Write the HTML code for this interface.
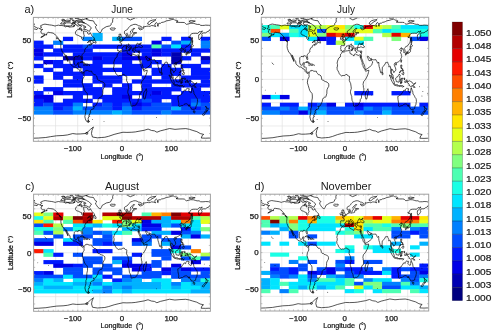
<!DOCTYPE html><html><head><meta charset="utf-8"><style>html,body{margin:0;padding:0;background:#fff;overflow:hidden;}svg{display:block;will-change:transform;filter:blur(0.2px);}text{font-family:"Liberation Sans",sans-serif;fill:#1a1a1a;}</style></head><body>
<svg width="500" height="335" viewBox="0 0 500 335">
<rect width="500" height="335" fill="#fff"/>
<defs>
<path id="coast" d="M-168 -65.6 -165 -64.6 -161 -64.5 -165 -62.5 -164 -60 -162 -58.6 -157 -58.7 -158 -57 -163 -55 -160 -55.5 -155 -57.5 -152 -59.5 -150 -61 -148 -60.5 -145 -60.3 -140 -59.7 -137 -58.5 -135 -57 -131 -54.5 -130 -54 -128 -51 -125 -49.5 -124 -48 -124 -46 -124.5 -42.5 -124 -40 -122.5 -37.5 -121 -35 -118.5 -34 -117 -32.5 -116 -31 -114.5 -29 -112 -26 -110 -23 -110.5 -24.5 -112.5 -28 -114.7 -31.5 -113 -31 -111 -28 -109 -25.5 -106 -23 -105.5 -20.5 -104 -19 -101 -17.5 -98 -16 -95 -16 -93 -15.5 -91.5 -14 -88 -13.3 -87 -12.5 -85.7 -11 -85.5 -10 -84 -9 -82 -8.3 -80 -7.3 -78 -8.5 -77.3 -8 -77.5 -6 -77 -3.5 -78.7 -1.5 -80 0 -80.5 2 -81 4.5 -80 6 -79 8 -77 12 -76 14 -74 16 -71 18 -70.3 20 -70.2 24 -71.5 28 -71.7 32 -72 36 -73.5 38 -73.5 42 -74.5 45 -75.5 48 -74.5 51 -73 53.5 -70 55 -67 55 -68.5 53 -68.3 52.3 -69 51 -68.5 50 -67.5 48 -65.8 47.8 -67.5 46 -65 45 -65 43 -64 42.5 -63.5 42.7 -64.5 41 -62.3 39 -57.5 38 -56.7 36.5 -57.5 35.5 -58.5 34.5 -56 34.9 -54 34.4 -52.5 33 -50.5 30.5 -48.6 28 -48.5 26 -46.5 24 -44.5 23 -42 23 -41 22 -40 20 -39 18 -39 15 -38.5 13 -37 11 -35 9 -34.8 7 -35.3 5.3 -37 4.7 -39 3.3 -41.5 2.9 -44 2.5 -46 1 -48.5 1 -50 0 -50.5 -2 -51.5 -4.3 -54 -5.8 -57 -6 -59.5 -8 -61 -9 -61.5 -10.5 -64 -10.5 -67 -10.5 -70 -11.5 -71.5 -10.8 -72 -11.7 -74 -11.2 -75.5 -10.5 -76 -9.5 -77 -8.5 -79.5 -9.6 -81 -9 -83 -10.7 -83.7 -11 -83.3 -14 -83.3 -15 -85 -16 -88 -15.8 -88.5 -17.5 -87.5 -20.5 -87 -21.5 -90.3 -21.2 -90.5 -19.5 -91.5 -18.5 -94.5 -18.2 -96 -19 -97.3 -21.5 -97.5 -24 -97.2 -26 -97.3 -27.8 -94.5 -29.5 -92 -29.6 -90 -29 -89.2 -29.2 -89.5 -30.2 -88 -30.5 -86 -30.4 -84.5 -30 -83 -29 -82.7 -27.5 -81.8 -26 -81 -25.2 -80.2 -25.8 -80.1 -27 -81 -29.5 -81.5 -31 -80.5 -32.3 -79 -33.3 -77.5 -34.5 -76 -35.2 -75.5 -35.6 -76 -37 -75.5 -38 -74.5 -39.5 -74 -40.5 -72 -41 -70 -41.6 -70.5 -42.5 -70.7 -43 -69 -44 -67 -44.7 -66 -45 -64.5 -45.5 -66 -44 -65.5 -43.5 -63.5 -44.5 -61 -45.3 -60 -46 -61 -47 -63 -46 -64.5 -47 -65 -49 -64.2 -48.9 -66 -49.2 -68 -48.5 -70 -47 -69.5 -47.9 -66.5 -50.2 -63 -50.2 -60 -50.2 -57 -51.5 -56 -52 -56.5 -53.5 -58 -54.5 -60 -55.5 -61.5 -56.5 -62.5 -58 -64.5 -60.3 -65 -59 -67.5 -58.3 -69.5 -59 -70 -61 -72 -61.8 -75 -62.3 -78 -62.5 -78 -60 -77.5 -58 -76.5 -56 -77.5 -55 -79 -54 -78.5 -52 -79.5 -51.5 -80.5 -51.3 -82 -52.5 -82.5 -55 -85 -55.3 -88 -56.5 -90 -57 -92.5 -57.3 -94.5 -59 -94.5 -61 -93 -62.5 -91 -63.8 -90 -64.5 -88 -64.2 -87 -65.2 -86 -66.5 -84.5 -67.5 -82 -68.5 -85 -69.8 -89 -68.7 -92 -69.5 -94 -71.5 -96 -70 -98 -68 -102 -67.8 -108 -67.5 -108 -68.5 -112 -68.5 -115 -67.8 -118 -69 -122 -69.5 -126 -69.5 -129 -70 -133 -69.5 -136 -68.8 -140 -69.6 -143 -70 -147 -70.3 -152 -70.8 -156.5 -71.3 -160 -70.8 -163 -70 -166 -68.8 -163 -67.5 -164.5 -66.5 -168 -65.6M-73 -78 -67 -80.5 -60 -82 -45 -82.5 -30 -83.5 -20 -82 -17 -80 -19 -77 -19 -74 -22 -72 -22 -70.5 -25 -69 -32 -68 -37 -66 -40 -65 -42 -62 -44 -60 -46 -60.5 -49 -62 -51 -64 -53 -66 -54 -68 -51 -70 -54 -71 -56 -73 -58 -75.5 -65 -76 -70 -77 -73 -78M-62 -66.5 -64 -65 -66 -62 -68 -62.5 -72 -64 -75 -64.5 -78 -64.5 -77 -66 -73 -67.5 -75 -68.5 -79 -69.5 -81 -70.5 -85 -70 -89 -71 -90 -73 -85 -73.8 -80 -73.7 -76 -72.5 -72 -71.5 -70 -70.5 -68 -70 -66 -68.5 -63 -67 -62 -66.5M-118 -71 -113 -73 -105 -73 -102 -72 -101 -70 -105 -69 -110 -68.8 -115 -69.2 -118 -70 -118 -71M-125 -71.5 -121 -74.5 -115 -73.5 -120 -71.5 -125 -71.5M-80 -74.5 -90 -74.5 -93 -76 -85 -76.5 -80 -75.5 -80 -74.5M-80 -77 -90 -78 -90 -80 -75 -83 -62 -82 -70 -79 -80 -77M-95 -72 -100 -73 -98 -74 -93 -74 -95 -72M-105 -75 -112 -74.5 -117 -75.5 -112 -76.5 -105 -76 -105 -75M-86 -64 -81 -64.5 -83 -66 -87 -65.5 -86 -64M-59 -47.6 -56 -47.6 -53 -46.7 -52.7 -47.8 -53.5 -49.3 -55.5 -49.8 -55.5 -51.6 -57 -50.5 -59.3 -48.5 -59 -47.6M-85 -21.9 -82 -23.1 -80 -23 -77 -21.5 -74.2 -20.2 -77.5 -19.8 -78.5 -21.5 -81.5 -21.7 -85 -21.9M-74.5 -18.4 -72.5 -19.9 -69.5 -19.7 -68.3 -18.6 -71 -18 -74.5 -18.4M-78.3 -18.4 -76.3 -18.2 -77 -17.8 -78.3 -18.4M-67.2 -18.5 -65.6 -18.4 -66 -18 -67.2 -18.5M-128.5 -50.8 -125 -50 -123.5 -48.4 -125.5 -48.9 -128.5 -50.8M-5.9 -35.8 -2 -35.1 1 -36.5 5 -36.8 9.7 -37.3 11 -37 10.5 -36 11 -35.2 10 -34 11.3 -33.2 15 -32.3 17 -31 19.5 -30.3 20 -31.5 20 -32.2 22 -32.9 25 -31.8 29 -30.9 31 -31.5 32.3 -31.2 34.2 -31.3 34.9 -29.5 34.2 -27.8 33.6 -28.5 32.6 -29.9 33 -28 34 -26.5 35.5 -24 36.9 -22 37.2 -19 38.6 -17.9 39.5 -15.5 41.5 -13.9 43.3 -12.5 43.5 -11.5 44.5 -10.4 47 -11.1 51.3 -11.8 51 -10.4 50.5 -9 49 -6 48 -4.5 46 -2 43.5 0.5 41.5 1.8 40 3 39.3 5 38.8 6.5 39.5 8 39.5 10.5 40.5 11 40.6 14.5 40 16.5 37 17.8 35.5 21 35.5 23 35.5 24 32.9 25.9 32.5 28.5 31 29.8 30 31.3 27.5 33.5 25.5 34 22.5 34 20 34.8 18.5 34.2 18.3 32.5 17.5 30 16.5 28.5 15.2 27 14.5 23 14.5 22 13.5 20.5 11.8 17.3 11.8 15.8 12.5 13.5 13.6 12 13.2 9.5 12.3 6 12 5 11 3.8 9.3 1.5 9.5 -1 9.8 -3 9.5 -4 8.5 -4.5 7 -4.4 5.5 -5 4.5 -6.3 2.5 -6.3 1 -5.9 -2 -4.7 -4 -5.2 -7.5 -4.4 -9 -5 -11.5 -6.9 -13 -8 -13.3 -9 -15 -11 -16.7 -12.5 -17 -14.5 -17.5 -14.7 -16.5 -16 -16 -19 -16.5 -20 -17 -21 -16 -23.5 -14.5 -26 -13 -27.7 -10 -29 -9.8 -30.5 -9.5 -32.5 -7 -33.8 -6 -35.5 -5.9 -35.8M49.3 12 50.5 15.5 49.5 17.5 47 25 45 25.5 44 23 43.3 21.5 44.5 16.5 46.3 15.8 48 13.5 49.3 12M180 -64.8 178.5 -64.5 177 -62.5 173 -61.5 170 -60 166 -60 163.5 -59.8 162 -58 163 -56 162 -54.8 160 -53 158.5 -52 156.7 -51 156 -52.5 155.6 -55 156 -57.5 158 -58 161 -60.5 163.5 -62.5 160 -61.5 157 -61.6 154 -59.3 150 -59.5 145 -59.4 142 -59 139 -57.5 137 -54 135 -54.7 141 -53 140.5 -50 140 -48 138 -46 135 -43.5 133 -42.7 131 -42.6 130.5 -42.3 129.5 -41 128 -40 127.5 -39.5 128.5 -38.5 129.3 -37 129.4 -35.5 127.5 -34.5 126.3 -34.5 126.5 -36 126.7 -37.5 125 -38 124.7 -39.7 122 -39 121.2 -40.9 121.5 -40.8 119.5 -39.9 118 -39 117.7 -38.5 118.8 -37.5 120.7 -37.8 122.5 -37.2 120.5 -36.1 119.3 -35 120.7 -32.5 121.8 -31.7 121.8 -30.8 121 -30.5 122 -29.8 121.5 -28.3 120 -26.6 119.5 -25.5 118.5 -24.5 117 -23.5 115 -22.7 113.5 -22.2 111 -21.5 109.8 -21.5 109.8 -20.3 108.7 -21.6 107 -21 106.5 -20 105.8 -19 106.5 -17.5 108.5 -15 109.3 -13 109 -11.5 107 -10.5 105 -8.7 104.8 -9.8 104.5 -10.5 103 -11 102.3 -12.2 100.9 -13.5 100 -13.3 99.3 -10.5 99.5 -9.2 100.3 -8.3 100.5 -7 101.5 -6.8 103.2 -5.3 103.5 -3.5 104.3 -1.4 103.5 -1.3 101.3 -2.9 100.3 -4.6 100.3 -6.5 98.7 -7.9 98.3 -9 98.6 -10 98.5 -13 97.7 -16.5 97.2 -16.8 96 -16.5 95 -15.8 94.3 -16 94.5 -18 93.5 -19.5 92.3 -20.8 92 -22 90.5 -22.2 89 -21.8 88 -22 87 -21.5 86.5 -20 84.5 -18.5 82.3 -16.6 80.2 -15.5 80.3 -13.4 79.9 -10.3 78.2 -8.9 77.5 -8.1 76.5 -9 75.6 -11.5 74.6 -14 73.4 -16.5 72.8 -19 72.9 -21 72.5 -21.5 72.6 -22.3 70.5 -20.8 69 -22.3 68.5 -23.5 67.5 -24 66.6 -25.4 64 -25.3 61.5 -25.2 59 -25.5 57.3 -25.8 56.5 -27.1 54.5 -26.7 52 -27.8 50.5 -29.5 48.5 -30 48 -29.3 48.5 -28 49.8 -26.7 50.2 -25.8 51 -24.5 51.5 -24.2 54.5 -24.2 56 -25.8 56.4 -26.3 56.4 -24.5 57.5 -23.7 59.8 -22.5 58.5 -20.5 57.7 -19 56.7 -18 55 -17 52.2 -15.8 49 -14.3 45 -12.8 43.5 -12.6 42.7 -15.5 42.3 -17 40.5 -20 39 -21.5 38 -24 36.5 -26 35 -28 34.6 -29.5 34.9 -29.5 34.2 -31.3 34.9 -32.5 35.5 -34 36 -35.8 36 -36.5 34.5 -36.8 32.5 -36.2 30.5 -36.5 29 -36.6 27.3 -37 26.5 -38.3 26.8 -39.5 26.2 -40.3 29 -41.1 31 -41.1 34 -42 36 -41.7 38 -41 40 -41 41.5 -41.5 41.6 -42.6 40 -43.4 38 -44.5 37.5 -45.2 38.5 -46.5 39.3 -47.2 37 -46.7 35 -45.4 36.5 -45.3 33.5 -44.5 32.5 -45.3 33.5 -46 31.5 -46.6 30.7 -46.5 29.6 -45.3 28.7 -44 27.6 -42.5 28 -41.3 26.3 -40.7 26 -40.8 23.5 -40.3 22.6 -40.6 22.8 -39 24 -38.2 23 -37.5 22.5 -36.4 21.7 -36.8 21.2 -37.7 21.5 -38.3 20.7 -39 20 -39.8 19.4 -41 19.5 -42 18.5 -42.5 17 -43.3 15.5 -44 14 -45 13.6 -45.8 12.3 -45.3 12.3 -44.3 13.5 -43.6 14.8 -42.1 16 -41.5 18.5 -40.2 17 -40.5 16.5 -39 17 -38.9 16.1 -38 15.7 -38 15.7 -39.5 15 -40.2 14 -40.8 12.5 -41.5 11 -42.5 10.2 -43.7 8.7 -44.4 7.5 -43.8 6 -43.1 4.5 -43.5 3.1 -43 3.2 -42 2 -41.2 0.8 -40.8 -0.3 -39.5 0.2 -38.7 -0.7 -37.6 -2 -36.7 -4.5 -36.7 -5.6 -36 -6.3 -36.8 -7.5 -37.2 -9 -37 -8.8 -38.7 -9.5 -39.5 -8.8 -41 -8.8 -42.5 -9.3 -43 -8 -43.7 -5 -43.5 -2 -43.4 -1.5 -43.5 -1.2 -44.5 -1.2 -46 -2.2 -47 -4.5 -47.8 -4.7 -48.4 -3 -48.8 -1.5 -48.7 -1.5 -49.7 0.2 -49.5 1.5 -50.2 2.5 -51.1 4 -51.5 4.7 -53 6 -53.5 8.5 -53.8 8.7 -55.5 8.1 -56.8 9.5 -57.1 10.5 -57.7 10.3 -56.5 10.5 -55.5 10 -54.5 11 -54 12.5 -54.4 14 -54 16.5 -54.5 18.5 -54.8 19.5 -54.4 21.2 -55.2 21 -56.5 21.5 -57.5 22.5 -57.7 23.5 -57 24.3 -57.3 24.5 -58.3 23.5 -59.2 26 -59.6 28 -59.5 30 -60 29 -60.3 27 -60.5 23 -60 21.5 -61 21.5 -63 25 -65 25.5 -65.7 23 -65.8 21.5 -64.8 19.5 -63.5 17.5 -62.3 17.2 -60.8 18.8 -60 18.5 -59.3 16.5 -58 16.5 -56.5 14.2 -55.4 12.9 -55.5 12.5 -56.5 11.5 -58.2 11 -59 10.5 -59.5 9.5 -59 7 -58 5.5 -58.8 5 -60 5 -62 7 -63 10 -64 12.5 -65.5 14 -67.2 16 -68.5 18 -69.6 21 -70.2 24 -71 28 -71 31 -70.3 33 -69.3 36 -69 40 -67.8 41.2 -66.8 40 -66.2 38.5 -66 35 -66.3 33.5 -66.6 34.5 -65 37 -63.9 40.5 -64.5 44 -66 44 -68.5 46 -68 50 -68.5 53.5 -68.8 54.5 -68.3 58 -68.8 60 -69.5 64 -69.2 67 -68.5 68.5 -68.2 66.5 -70.5 68.5 -72.8 70 -73.4 71.5 -72.5 72.5 -71 72 -69 73.5 -68.4 73.8 -69.2 73.5 -71.5 75 -72.5 78 -72.3 80.5 -73.5 84 -73.8 87 -74.5 90 -75.5 95 -76 100 -77 104.3 -77.7 106 -77.2 107 -76.5 112 -76.1 113.5 -75.5 112.5 -74 110 -74 114 -73.6 118 -73.5 124 -73.5 127 -73.3 129 -72 131 -71 135 -71.6 140 -72.5 146 -72.3 150 -71.4 153 -70.9 157 -71 160 -69.7 163 -69.6 167 -69.7 170 -70 176 -69.8 180 -68.9M-180 -68.9 -177 -67.8 -174 -67 -172 -66.2 -170 -66.2 -171.5 -65.5 -173 -64.3 -177 -65 -179 -65 -180 -64.8M-5.7 -50 -3 -50.6 1.4 -51.2 1.7 -52.7 0 -53.5 -0.5 -54.5 -1.5 -55.6 -2.1 -57 -1.8 -57.6 -4 -57.6 -3 -58.6 -5 -58.6 -6.2 -57.5 -5.7 -56.3 -6 -55.3 -4.8 -54.8 -3.2 -54.9 -3.4 -54.4 -2.9 -53.8 -3.1 -53.3 -4.6 -53.3 -4.2 -52.2 -5.3 -51.8 -3.2 -51.4 -4.5 -51 -5.7 -50M-6 -52 -6 -53.9 -5.5 -55 -7.3 -55.3 -8.5 -54.5 -10 -53.5 -9.5 -52.2 -10 -51.7 -8 -51.6 -6 -52M-22.5 -64 -24 -65.5 -22 -66.4 -18 -66.2 -14.5 -66.3 -13.6 -65 -15 -64.2 -18 -63.5 -22.5 -64M11 -78.5 17 -76.6 22 -78 27 -79.5 20 -80.5 11 -79.7 11 -78.5M52 -71.5 53 -73.5 57 -75.5 62 -76.5 69 -77 66 -75.5 59 -73 56 -70.7 52 -71.5M95 -79 100 -78.7 105 -79.5 100 -81 95 -80.3 95 -79M137 -74 142 -73.8 149 -75.2 141 -76 137 -75.5 137 -74M142 -46 143.5 -46.5 143.2 -49.5 144 -49 143 -51.5 143.2 -53.3 142.5 -54.3 142.2 -53.5 141.8 -52 142 -49 142 -46M130.9 -34 132.5 -35.5 134.5 -35.6 136 -36 137 -37 138.5 -37.8 140 -39.5 140 -40.8 141.3 -41.3 141.5 -40.5 142 -39.5 141 -38.3 140.9 -36.9 140.7 -35.7 139.8 -35 138.7 -34.7 137 -34.6 136.8 -33.5 135.2 -33.9 135 -34.6 133 -34.4 131.5 -33.9 130.9 -34M129.7 -33.5 131 -33.9 131.9 -33 131.3 -31.3 130.2 -31.2 129.8 -32.7 129.7 -33.5M132.5 -33.3 133.5 -34.2 134.7 -34.2 134.3 -33.3 133 -32.8 132.5 -33.3M140 -41.5 141.5 -42.5 143.3 -42 145.5 -43.3 144.5 -44 142 -45.5 141.5 -44 140.3 -43.2 140 -41.5M120.1 -23 120.8 -21.9 121.9 -24.7 121.5 -25.3 120.2 -24 120.1 -23M108.6 -19.2 110 -20 111 -19.6 109.5 -18.2 108.6 -19.2M120 -18.5 122.3 -18.5 122 -16.5 121.6 -15 122 -14 124 -13.8 124 -12.6 122.5 -13.5 120.8 -14 120 -16 120 -18.5M122 -7 123.5 -8 125 -9 126.5 -9 126.5 -7 125.5 -5.8 124 -6.3 122 -7M124.3 -12.5 125.7 -11.5 125 -10 124 -10.5 124.3 -12.5M122 -11.8 123 -11 122.5 -10.5 121.9 -10.8 122 -11.8M117 -8.3 119.5 -11.3 119.7 -10.5 117.5 -8.2 117 -8.3M109 -1.5 109.5 -2 111 -2.8 113 -3.2 114 -4.5 115.5 -5.4 116.8 -7 117.7 -6 119 -5.3 118 -4.3 117.7 -3 118 -1 117.5 0 116.7 1.3 116.3 3.5 114.5 3.5 114 3.3 111.7 3 110.2 2.8 110 1.5 109 0 109 -1.5M95.3 -5.6 97.5 -5.2 100.3 -2.5 101.5 -1.8 103.7 0 104.5 1.8 106 3.2 105.8 5.8 104.5 5.9 102.3 4 101 2.5 99 0 98.5 -1.8 97 -3.3 95.3 -5.6M105.2 6.8 106 5.9 108.5 6.7 110.5 6.8 112.8 6.9 114.4 7.7 114.5 8.7 111 8.2 108 7.8 106.4 7.4 105.2 6.8M115 8.2 116 8.8 119 8.6 122 8.7 124 8.2 122 8.2 119 8.2 116 8.3 115 8.2M124 10 126.5 8.5 127 8.6 124.5 10.2 124 10M119.5 5.5 119.5 3.5 118.8 2.8 119.8 0 120.8 -1.3 124.5 -1.5 125.2 -1.5 124 -0.4 121 -0.5 120.2 0 121.5 1 123.3 0.9 122 1.8 122.5 4.5 121.3 4.8 121 2.8 120.3 2.9 120.5 5.5 119.5 5.5M127.5 -2 128.5 -1.5 128 0 128.8 0.8 127.8 0.5 127.5 -2M128 3 130.8 3.2 130.5 3.8 128 3.5 128 3M131 1.3 132.5 0.4 135 3.3 138 1.6 141 2.6 144.5 3.8 146 5.5 147.8 6.1 147.5 8 149 9 150.8 10.3 149.5 10.4 147 10.1 146 8.3 144 7.7 143.4 9 142.5 9.3 141 9.1 139 8.1 138 8.4 137.8 6 135 4.4 133 4 132 2.8 133.5 2.3 132 2.1 131 1.3M148.5 5.5 150 5.2 152 4.2 151.5 5 150 6.2 148.5 5.5M79.9 -9.8 81.2 -8.5 81.8 -7 81.6 -6.2 80.6 -5.9 80 -6.5 79.8 -8 79.9 -9.8M113.5 22 114 26 115 29.5 115.7 31.6 115 34.3 117.8 35.1 120 34 123.5 33.9 126 32.3 129 31.6 131.3 31.5 133 32 134.3 33 135.7 34.8 136 33 137.8 33.2 137.5 34.5 138 35.5 139.5 35.9 140.5 38 143 38.8 144.5 38.2 145 38.5 146.3 39.1 147.5 38 150 37.5 150 36 151 34 152.5 32.2 153 30 153.6 28.5 153.2 25.8 152.5 24.5 151 23.5 150 22.3 149 21 148 20 146.3 18.9 146 17 145.4 15 144.5 14.2 143.5 12.5 142.5 10.7 141.6 12.6 141.5 15 141 17 140 17.7 139 17.3 137 16 135.5 15 136.8 12.3 136.5 11.9 135 12.1 132.6 11.5 131 12.2 130 13.3 129.5 15 127.7 14 126 14.2 125 15.5 123.5 17 122.2 18 121 19.5 119 20 117 20.7 114.8 21.8 113.5 22M144.7 40.7 148.3 40.9 148 43 146.8 43.6 145.2 42.3 144.7 40.7M169.7 34.4 171.5 36 172.9 37.3 175.5 37.7 174.9 39.2 173.9 39.5 173 41.3 172.2 41.6 171.6 41.3 172 40 170.8 39.2 171.6 37.5 171.2 36.5 169.7 34.4M169.7 40.5 171.3 41.3 170.9 42.3 170 43.5 168.3 44.3 167.7 45.9 166.3 46.6 163.5 46 163.8 45.2 165.3 44 167.7 42.9 168.5 41.7 169.1 40.9 169.7 40.5M12.4 -38 15.6 -38.3 15.1 -36.7 12.4 -37.8 12.4 -38M8.2 -41 9.7 -41 9.6 -39.2 8.4 -39 8.2 -41M8.6 -42.9 9.4 -43 9.5 -42 9.2 -41.4 8.6 -42 8.6 -42.9M23.5 -35.3 26.3 -35.2 24.5 -34.9 23.5 -35.3M32.3 -35 34.5 -35.6 33.8 -34.6 32.3 -35M-180 76 -170 75.8 -155 75.1 -145 74 -133 72.9 -120 72.5 -111 71.8 -100 70 -93 70.6 -85 70.5 -75 70 -69 67.6 -64 64.5 -58 61.5 -59 63 -61 66 -62 70 -60 74.5 -50 75.5 -42 75.1 -35 74.8 -27 73.5 -16 71.1 -8 69.8 2 68.3 10 68.5 20 68.3 27 67.9 34.5 67 45 65.8 53 64.2 60 66 66 66.5 71 68.3 78 66.5 85.7 65.3 96.7 63.5 107.7 64.6 118 64 129.6 63.6 137 64.5 144 66 152 67.5 159 70 166 71.1 163 72.5 161 75.8 170 76 177 75.8 180 76M-73 68.8 -69 69 -70.5 71 -74 70.3 -73 68.8M-157.5 -21.6 -155.3 -20.3 -153.3 -19M-101 -71.5 -97 -71.5 -96 -73.5 -100 -73.8 -101 -71.5M-99 -68.5 -96 -68.8 -96 -69.5 -98 -69.8 -99 -68.5M-100 -75.5 -97 -75.8 -98 -76.5 -101 -76.3 -100 -75.5M-96 -74.8 -93 -75 -94 -75.5 -96 -75.3 -96 -74.8M-122 -76 -116 -76.5 -118 -77.3 -123 -76.8 -122 -76M-95 -78.5 -88 -79 -90 -80.5 -95 -80.5 -95 -78.5M-105 -77.5 -100 -78 -102 -79 -106 -78.5 -105 -77.5M-80 -73 -76 -73 -77 -73.7 -80 -73.5 -80 -73M-83 -62.8 -81 -62.5 -80.5 -63 -82.5 -63.3 -83 -62.8M-180 -71.5 -177.5 -71.2 -179 -70.9 -180 -71M180 -71 178.7 -71.2 180 -71.5M50 -80 55 -80.3 60 -80.5 58 -81 50 -80.5 50 -80M-154.5 -57.3 -152.5 -57.5 -153.5 -58.3 -154.5 -57.3M-165 -54.2 -162 -54.7 -163.5 -54.8 -165 -54.2M-132.5 -52 -131 -52.5 -132 -54 -133 -53.8 -132.5 -52M-68.6 52.6 -66 54.5 -67.5 55.3 -70 54.6 -68.6 52.6M-78 -67.5 -76.5 -67.3 -77 -68 -78 -67.5"/>
<clipPath id="clipa"><rect x="33.4" y="17.4" width="177.2" height="123.9"/></clipPath>
<clipPath id="clipb"><rect x="261.3" y="17.3" width="167.4" height="124.2"/></clipPath>
<clipPath id="clipc"><rect x="33.6" y="194.2" width="176.8" height="117.1"/></clipPath>
<clipPath id="clipd"><rect x="260.8" y="194.2" width="167.9" height="116.8"/></clipPath>
</defs>
<g clip-path="url(#clipa)">
<path d="M55.55 17.4V141.3M77.7 17.4V141.3M99.85 17.4V141.3M122 17.4V141.3M144.15 17.4V141.3M166.3 17.4V141.3M188.45 17.4V141.3M33.4 125.81H210.6M33.4 102.58H210.6M33.4 79.35H210.6M33.4 56.12H210.6M33.4 32.89H210.6" stroke="#e0e0e0" stroke-width="0.65" fill="none"/>
<rect x="92.47" y="32.89" width="10.19" height="4.32" fill="#00b2ff"/>
<rect x="62.93" y="36.76" width="10.19" height="4.32" fill="#001aff"/>
<rect x="82.62" y="36.76" width="10.19" height="4.32" fill="#0080ff"/>
<rect x="92.47" y="36.76" width="10.19" height="4.32" fill="#00b2ff"/>
<rect x="112.16" y="36.76" width="10.19" height="4.32" fill="#00b2ff"/>
<rect x="122" y="36.76" width="20.04" height="4.32" fill="#004dff"/>
<rect x="161.38" y="36.76" width="10.19" height="4.32" fill="#001aff"/>
<rect x="181.07" y="36.76" width="10.19" height="4.32" fill="#001aff"/>
<rect x="200.76" y="36.76" width="10.19" height="4.32" fill="#001aff"/>
<rect x="33.4" y="40.63" width="10.19" height="4.32" fill="#001aff"/>
<rect x="53.09" y="40.63" width="10.19" height="4.32" fill="#0080ff"/>
<rect x="151.53" y="40.63" width="10.19" height="4.32" fill="#0000e6"/>
<rect x="171.22" y="40.63" width="10.19" height="4.32" fill="#004dff"/>
<rect x="181.07" y="40.63" width="10.19" height="4.32" fill="#00b2ff"/>
<rect x="200.76" y="40.63" width="10.19" height="4.32" fill="#0080ff"/>
<rect x="33.4" y="44.5" width="20.04" height="4.32" fill="#001aff"/>
<rect x="62.93" y="44.5" width="20.04" height="4.32" fill="#001aff"/>
<rect x="82.62" y="44.5" width="10.19" height="4.32" fill="#004dff"/>
<rect x="92.47" y="44.5" width="59.42" height="4.32" fill="#001aff"/>
<rect x="151.53" y="44.5" width="10.19" height="4.32" fill="#4dffb2"/>
<rect x="161.38" y="44.5" width="10.19" height="4.32" fill="#004dff"/>
<rect x="171.22" y="44.5" width="10.19" height="4.32" fill="#00e5ff"/>
<rect x="181.07" y="44.5" width="10.19" height="4.32" fill="#001aff"/>
<rect x="200.76" y="44.5" width="10.19" height="4.32" fill="#0080ff"/>
<rect x="33.4" y="48.38" width="10.19" height="4.32" fill="#0000e6"/>
<rect x="53.09" y="48.38" width="39.73" height="4.32" fill="#001aff"/>
<rect x="122" y="48.38" width="29.88" height="4.32" fill="#001aff"/>
<rect x="151.53" y="48.38" width="10.19" height="4.32" fill="#0000e6"/>
<rect x="161.38" y="48.38" width="49.57" height="4.32" fill="#001aff"/>
<rect x="33.4" y="52.25" width="10.19" height="4.32" fill="#0000e6"/>
<rect x="43.24" y="52.25" width="20.04" height="4.32" fill="#001aff"/>
<rect x="72.78" y="52.25" width="49.57" height="4.32" fill="#001aff"/>
<rect x="122" y="52.25" width="10.19" height="4.32" fill="#0000e6"/>
<rect x="141.69" y="52.25" width="10.19" height="4.32" fill="#001aff"/>
<rect x="151.53" y="52.25" width="10.19" height="4.32" fill="#0000e6"/>
<rect x="161.38" y="52.25" width="10.19" height="4.32" fill="#001aff"/>
<rect x="171.22" y="52.25" width="10.19" height="4.32" fill="#0000b2"/>
<rect x="190.91" y="52.25" width="10.19" height="4.32" fill="#001aff"/>
<rect x="33.4" y="56.12" width="10.19" height="4.32" fill="#001aff"/>
<rect x="62.93" y="56.12" width="20.04" height="4.32" fill="#0000b2"/>
<rect x="82.62" y="56.12" width="10.19" height="4.32" fill="#001aff"/>
<rect x="92.47" y="56.12" width="10.19" height="4.32" fill="#0000e6"/>
<rect x="102.31" y="56.12" width="20.04" height="4.32" fill="#001aff"/>
<rect x="122" y="56.12" width="29.88" height="4.32" fill="#0000e6"/>
<rect x="171.22" y="56.12" width="10.19" height="4.32" fill="#0000b2"/>
<rect x="181.07" y="56.12" width="10.19" height="4.32" fill="#001aff"/>
<rect x="200.76" y="56.12" width="10.19" height="4.32" fill="#0000b2"/>
<rect x="43.24" y="59.99" width="10.19" height="4.32" fill="#0000e6"/>
<rect x="53.09" y="59.99" width="10.19" height="4.32" fill="#001aff"/>
<rect x="72.78" y="59.99" width="10.19" height="4.32" fill="#001aff"/>
<rect x="92.47" y="59.99" width="39.73" height="4.32" fill="#001aff"/>
<rect x="141.69" y="59.99" width="20.04" height="4.32" fill="#001aff"/>
<rect x="171.22" y="59.99" width="10.19" height="4.32" fill="#0000b2"/>
<rect x="200.76" y="59.99" width="10.19" height="4.32" fill="#001aff"/>
<rect x="33.4" y="63.86" width="10.19" height="4.32" fill="#001aff"/>
<rect x="53.09" y="63.86" width="49.57" height="4.32" fill="#001aff"/>
<rect x="122" y="63.86" width="29.88" height="4.32" fill="#001aff"/>
<rect x="161.38" y="63.86" width="10.19" height="4.32" fill="#001aff"/>
<rect x="181.07" y="63.86" width="20.04" height="4.32" fill="#001aff"/>
<rect x="43.24" y="67.73" width="10.19" height="4.32" fill="#001aff"/>
<rect x="62.93" y="67.73" width="10.19" height="4.32" fill="#001aff"/>
<rect x="82.62" y="67.73" width="59.42" height="4.32" fill="#001aff"/>
<rect x="151.53" y="67.73" width="29.88" height="4.32" fill="#001aff"/>
<rect x="190.91" y="67.73" width="20.04" height="4.32" fill="#001aff"/>
<rect x="53.09" y="71.61" width="49.57" height="4.32" fill="#001aff"/>
<rect x="122" y="71.61" width="20.04" height="4.32" fill="#001aff"/>
<rect x="151.53" y="71.61" width="29.88" height="4.32" fill="#001aff"/>
<rect x="190.91" y="71.61" width="20.04" height="4.32" fill="#001aff"/>
<rect x="33.4" y="75.48" width="10.19" height="4.32" fill="#001aff"/>
<rect x="53.09" y="75.48" width="10.19" height="4.32" fill="#001aff"/>
<rect x="72.78" y="75.48" width="10.19" height="4.32" fill="#001aff"/>
<rect x="92.47" y="75.48" width="29.88" height="4.32" fill="#001aff"/>
<rect x="141.69" y="75.48" width="10.19" height="4.32" fill="#001aff"/>
<rect x="161.38" y="75.48" width="10.19" height="4.32" fill="#001aff"/>
<rect x="181.07" y="75.48" width="29.88" height="4.32" fill="#001aff"/>
<rect x="33.4" y="79.35" width="10.19" height="4.32" fill="#001aff"/>
<rect x="62.93" y="79.35" width="20.04" height="4.32" fill="#001aff"/>
<rect x="92.47" y="79.35" width="29.88" height="4.32" fill="#001aff"/>
<rect x="131.84" y="79.35" width="59.42" height="4.32" fill="#001aff"/>
<rect x="200.76" y="79.35" width="10.19" height="4.32" fill="#001aff"/>
<rect x="62.93" y="83.22" width="29.88" height="4.32" fill="#001aff"/>
<rect x="102.31" y="83.22" width="10.19" height="4.32" fill="#001aff"/>
<rect x="122" y="83.22" width="10.19" height="4.32" fill="#001aff"/>
<rect x="141.69" y="83.22" width="10.19" height="4.32" fill="#001aff"/>
<rect x="171.22" y="83.22" width="39.73" height="4.32" fill="#001aff"/>
<rect x="43.24" y="87.09" width="20.04" height="4.32" fill="#001aff"/>
<rect x="82.62" y="87.09" width="20.04" height="4.32" fill="#001aff"/>
<rect x="112.16" y="87.09" width="20.04" height="4.32" fill="#001aff"/>
<rect x="141.69" y="87.09" width="39.73" height="4.32" fill="#001aff"/>
<rect x="190.91" y="87.09" width="10.19" height="4.32" fill="#001aff"/>
<rect x="33.4" y="90.97" width="10.19" height="4.32" fill="#001aff"/>
<rect x="53.09" y="90.97" width="10.19" height="4.32" fill="#0000e6"/>
<rect x="62.93" y="90.97" width="39.73" height="4.32" fill="#001aff"/>
<rect x="112.16" y="90.97" width="39.73" height="4.32" fill="#001aff"/>
<rect x="151.53" y="90.97" width="10.19" height="4.32" fill="#0000e6"/>
<rect x="161.38" y="90.97" width="10.19" height="4.32" fill="#001aff"/>
<rect x="181.07" y="90.97" width="29.88" height="4.32" fill="#001aff"/>
<rect x="33.4" y="94.84" width="20.04" height="4.32" fill="#0000e6"/>
<rect x="72.78" y="94.84" width="10.19" height="4.32" fill="#001aff"/>
<rect x="92.47" y="94.84" width="29.88" height="4.32" fill="#001aff"/>
<rect x="122" y="94.84" width="10.19" height="4.32" fill="#0000e6"/>
<rect x="141.69" y="94.84" width="69.26" height="4.32" fill="#001aff"/>
<rect x="33.4" y="98.71" width="10.19" height="4.32" fill="#001aff"/>
<rect x="43.24" y="98.71" width="10.19" height="4.32" fill="#0000e6"/>
<rect x="62.93" y="98.71" width="29.88" height="4.32" fill="#001aff"/>
<rect x="102.31" y="98.71" width="39.73" height="4.32" fill="#001aff"/>
<rect x="141.69" y="98.71" width="10.19" height="4.32" fill="#004dff"/>
<rect x="151.53" y="98.71" width="10.19" height="4.32" fill="#001aff"/>
<rect x="171.22" y="98.71" width="20.04" height="4.32" fill="#001aff"/>
<rect x="190.91" y="98.71" width="10.19" height="4.32" fill="#004dff"/>
<rect x="200.76" y="98.71" width="10.19" height="4.32" fill="#001aff"/>
<rect x="33.4" y="102.58" width="10.19" height="4.32" fill="#001aff"/>
<rect x="43.24" y="102.58" width="10.19" height="4.32" fill="#004dff"/>
<rect x="53.09" y="102.58" width="20.04" height="4.32" fill="#001aff"/>
<rect x="72.78" y="102.58" width="10.19" height="4.32" fill="#0080ff"/>
<rect x="92.47" y="102.58" width="10.19" height="4.32" fill="#001aff"/>
<rect x="102.31" y="102.58" width="10.19" height="4.32" fill="#004dff"/>
<rect x="112.16" y="102.58" width="10.19" height="4.32" fill="#001aff"/>
<rect x="122" y="102.58" width="10.19" height="4.32" fill="#004dff"/>
<rect x="131.84" y="102.58" width="10.19" height="4.32" fill="#0000e6"/>
<rect x="141.69" y="102.58" width="10.19" height="4.32" fill="#001aff"/>
<rect x="151.53" y="102.58" width="20.04" height="4.32" fill="#004dff"/>
<rect x="171.22" y="102.58" width="20.04" height="4.32" fill="#001aff"/>
<rect x="190.91" y="102.58" width="10.19" height="4.32" fill="#0080ff"/>
<rect x="200.76" y="102.58" width="10.19" height="4.32" fill="#004dff"/>
<rect x="33.4" y="106.45" width="20.04" height="4.32" fill="#0080ff"/>
<rect x="53.09" y="106.45" width="10.19" height="4.32" fill="#001aff"/>
<rect x="62.93" y="106.45" width="10.19" height="4.32" fill="#004dff"/>
<rect x="72.78" y="106.45" width="10.19" height="4.32" fill="#00b2ff"/>
<rect x="82.62" y="106.45" width="29.88" height="4.32" fill="#004dff"/>
<rect x="112.16" y="106.45" width="10.19" height="4.32" fill="#001aff"/>
<rect x="122" y="106.45" width="10.19" height="4.32" fill="#0080ff"/>
<rect x="131.84" y="106.45" width="10.19" height="4.32" fill="#001aff"/>
<rect x="141.69" y="106.45" width="29.88" height="4.32" fill="#004dff"/>
<rect x="171.22" y="106.45" width="10.19" height="4.32" fill="#00b2ff"/>
<rect x="181.07" y="106.45" width="10.19" height="4.32" fill="#004dff"/>
<rect x="190.91" y="106.45" width="10.19" height="4.32" fill="#001aff"/>
<rect x="200.76" y="106.45" width="10.19" height="4.32" fill="#004dff"/>
<rect x="33.4" y="110.32" width="20.04" height="4.32" fill="#0080ff"/>
<rect x="53.09" y="110.32" width="20.04" height="4.32" fill="#004dff"/>
<rect x="72.78" y="110.32" width="39.73" height="4.32" fill="#0080ff"/>
<rect x="112.16" y="110.32" width="10.19" height="4.32" fill="#00b2ff"/>
<rect x="122" y="110.32" width="10.19" height="4.32" fill="#0080ff"/>
<rect x="131.84" y="110.32" width="29.88" height="4.32" fill="#004dff"/>
<rect x="161.38" y="110.32" width="10.19" height="4.32" fill="#0080ff"/>
<rect x="171.22" y="110.32" width="39.73" height="4.32" fill="#004dff"/>
<g transform="translate(122 79.35) scale(0.49222 0.77438)"><use href="#coast" fill="none" stroke="#000" stroke-width="1.1" stroke-linejoin="round" vector-effect="non-scaling-stroke" style="vector-effect:non-scaling-stroke"/></g>
<circle cx="37.58" cy="90.04" r="0.45" fill="#000"/>
<circle cx="48.41" cy="92.98" r="0.45" fill="#000"/>
<circle cx="77.45" cy="79.74" r="0.45" fill="#000"/>
<circle cx="209.62" cy="93.13" r="0.45" fill="#000"/>
<circle cx="204.45" cy="91.35" r="0.45" fill="#000"/>
<circle cx="200.76" cy="86.71" r="0.45" fill="#000"/>
<circle cx="203.46" cy="95.84" r="0.45" fill="#000"/>
<circle cx="150.3" cy="94.99" r="0.45" fill="#000"/>
<circle cx="92.47" cy="119.39" r="0.45" fill="#000"/>
<circle cx="104.03" cy="121.4" r="0.45" fill="#000"/>
<circle cx="156.46" cy="117.53" r="0.45" fill="#000"/>
</g>
<path d="M38.32 17.4v1.6M38.32 141.3v-1.6M43.24 17.4v1.6M43.24 141.3v-1.6M48.17 17.4v1.6M48.17 141.3v-1.6M53.09 17.4v1.6M53.09 141.3v-1.6M58.01 17.4v1.6M58.01 141.3v-1.6M62.93 17.4v1.6M62.93 141.3v-1.6M67.86 17.4v1.6M67.86 141.3v-1.6M72.78 17.4v1.6M72.78 141.3v-1.6M77.7 17.4v1.6M77.7 141.3v-1.6M82.62 17.4v1.6M82.62 141.3v-1.6M87.54 17.4v1.6M87.54 141.3v-1.6M92.47 17.4v1.6M92.47 141.3v-1.6M97.39 17.4v1.6M97.39 141.3v-1.6M102.31 17.4v1.6M102.31 141.3v-1.6M107.23 17.4v1.6M107.23 141.3v-1.6M112.16 17.4v1.6M112.16 141.3v-1.6M117.08 17.4v1.6M117.08 141.3v-1.6M122 17.4v1.6M122 141.3v-1.6M126.92 17.4v1.6M126.92 141.3v-1.6M131.84 17.4v1.6M131.84 141.3v-1.6M136.77 17.4v1.6M136.77 141.3v-1.6M141.69 17.4v1.6M141.69 141.3v-1.6M146.61 17.4v1.6M146.61 141.3v-1.6M151.53 17.4v1.6M151.53 141.3v-1.6M156.46 17.4v1.6M156.46 141.3v-1.6M161.38 17.4v1.6M161.38 141.3v-1.6M166.3 17.4v1.6M166.3 141.3v-1.6M171.22 17.4v1.6M171.22 141.3v-1.6M176.14 17.4v1.6M176.14 141.3v-1.6M181.07 17.4v1.6M181.07 141.3v-1.6M185.99 17.4v1.6M185.99 141.3v-1.6M190.91 17.4v1.6M190.91 141.3v-1.6M195.83 17.4v1.6M195.83 141.3v-1.6M200.76 17.4v1.6M200.76 141.3v-1.6M205.68 17.4v1.6M205.68 141.3v-1.6M33.4 133.56h1.6M210.6 133.56h-1.6M33.4 125.81h1.6M210.6 125.81h-1.6M33.4 118.07h1.6M210.6 118.07h-1.6M33.4 110.32h1.6M210.6 110.32h-1.6M33.4 102.58h1.6M210.6 102.58h-1.6M33.4 94.84h1.6M210.6 94.84h-1.6M33.4 87.09h1.6M210.6 87.09h-1.6M33.4 79.35h1.6M210.6 79.35h-1.6M33.4 71.61h1.6M210.6 71.61h-1.6M33.4 63.86h1.6M210.6 63.86h-1.6M33.4 56.12h1.6M210.6 56.12h-1.6M33.4 48.38h1.6M210.6 48.38h-1.6M33.4 40.63h1.6M210.6 40.63h-1.6M33.4 32.89h1.6M210.6 32.89h-1.6M33.4 25.14h1.6M210.6 25.14h-1.6" stroke="#9a9a9a" stroke-width="0.6" fill="none"/>
<rect x="33.4" y="17.4" width="177.2" height="123.9" fill="none" stroke="#a0a0a0" stroke-width="1"/>
<g clip-path="url(#clipb)">
<path d="M282.23 17.3V141.5M303.15 17.3V141.5M324.07 17.3V141.5M345 17.3V141.5M365.93 17.3V141.5M386.85 17.3V141.5M407.77 17.3V141.5M261.3 125.97H428.7M261.3 102.69H428.7M261.3 79.4H428.7M261.3 56.11H428.7M261.3 32.83H428.7" stroke="#e0e0e0" stroke-width="0.65" fill="none"/>
<rect x="261.3" y="25.06" width="9.65" height="4.33" fill="#1affe5"/>
<rect x="270.6" y="25.06" width="9.65" height="4.33" fill="#4dffb2"/>
<rect x="279.9" y="25.06" width="9.65" height="4.33" fill="#e5ff1a"/>
<rect x="289.2" y="25.06" width="18.95" height="4.33" fill="#00e5ff"/>
<rect x="307.8" y="25.06" width="18.95" height="4.33" fill="#b3ff4c"/>
<rect x="326.4" y="25.06" width="9.65" height="4.33" fill="#e5ff1a"/>
<rect x="335.7" y="25.06" width="9.65" height="4.33" fill="#ffe500"/>
<rect x="345" y="25.06" width="9.65" height="4.33" fill="#80ff80"/>
<rect x="354.3" y="25.06" width="9.65" height="4.33" fill="#1affe5"/>
<rect x="363.6" y="25.06" width="9.65" height="4.33" fill="#e50000"/>
<rect x="372.9" y="25.06" width="9.65" height="4.33" fill="#e5ff1a"/>
<rect x="382.2" y="25.06" width="9.65" height="4.33" fill="#b3ff4c"/>
<rect x="391.5" y="25.06" width="9.65" height="4.33" fill="#4dffb2"/>
<rect x="400.8" y="25.06" width="28.25" height="4.33" fill="#00e5ff"/>
<rect x="261.3" y="28.94" width="9.65" height="4.33" fill="#1affe5"/>
<rect x="270.6" y="28.94" width="9.65" height="4.33" fill="#ff4c00"/>
<rect x="289.2" y="28.94" width="9.65" height="4.33" fill="#4dffb2"/>
<rect x="298.5" y="28.94" width="9.65" height="4.33" fill="#00e5ff"/>
<rect x="307.8" y="28.94" width="9.65" height="4.33" fill="#e5ff1a"/>
<rect x="317.1" y="28.94" width="9.65" height="4.33" fill="#004dff"/>
<rect x="326.4" y="28.94" width="18.95" height="4.33" fill="#e5ff1a"/>
<rect x="345" y="28.94" width="9.65" height="4.33" fill="#b3ff4c"/>
<rect x="354.3" y="28.94" width="18.95" height="4.33" fill="#e5ff1a"/>
<rect x="372.9" y="28.94" width="9.65" height="4.33" fill="#4dffb2"/>
<rect x="382.2" y="28.94" width="9.65" height="4.33" fill="#00e5ff"/>
<rect x="391.5" y="28.94" width="37.55" height="4.33" fill="#1affe5"/>
<rect x="261.3" y="32.83" width="9.65" height="4.33" fill="#80ff80"/>
<rect x="270.6" y="32.83" width="9.65" height="4.33" fill="#00e5ff"/>
<rect x="279.9" y="32.83" width="9.65" height="4.33" fill="#00b2ff"/>
<rect x="289.2" y="32.83" width="9.65" height="4.33" fill="#1affe5"/>
<rect x="298.5" y="32.83" width="9.65" height="4.33" fill="#00e5ff"/>
<rect x="307.8" y="32.83" width="9.65" height="4.33" fill="#e5ff1a"/>
<rect x="317.1" y="32.83" width="9.65" height="4.33" fill="#80ff80"/>
<rect x="326.4" y="32.83" width="9.65" height="4.33" fill="#e50000"/>
<rect x="335.7" y="32.83" width="9.65" height="4.33" fill="#ff4c00"/>
<rect x="345" y="32.83" width="9.65" height="4.33" fill="#e50000"/>
<rect x="382.2" y="32.83" width="9.65" height="4.33" fill="#b3ff4c"/>
<rect x="391.5" y="32.83" width="9.65" height="4.33" fill="#e50000"/>
<rect x="400.8" y="32.83" width="9.65" height="4.33" fill="#ffb300"/>
<rect x="419.4" y="32.83" width="9.65" height="4.33" fill="#1affe5"/>
<rect x="261.3" y="36.71" width="9.65" height="4.33" fill="#004dff"/>
<rect x="279.9" y="36.71" width="9.65" height="4.33" fill="#0000e6"/>
<rect x="307.8" y="36.71" width="9.65" height="4.33" fill="#00e5ff"/>
<rect x="317.1" y="36.71" width="9.65" height="4.33" fill="#0000e6"/>
<rect x="326.4" y="36.71" width="9.65" height="4.33" fill="#001aff"/>
<rect x="345" y="36.71" width="9.65" height="4.33" fill="#00e5ff"/>
<rect x="354.3" y="36.71" width="9.65" height="4.33" fill="#e5ff1a"/>
<rect x="363.6" y="36.71" width="9.65" height="4.33" fill="#4dffb2"/>
<rect x="391.5" y="36.71" width="9.65" height="4.33" fill="#80ff80"/>
<rect x="410.1" y="36.71" width="9.65" height="4.33" fill="#004dff"/>
<rect x="419.4" y="36.71" width="9.65" height="4.33" fill="#0000e6"/>
<rect x="326.4" y="40.59" width="9.65" height="4.33" fill="#001aff"/>
<rect x="335.7" y="40.59" width="9.65" height="4.33" fill="#b3ff4c"/>
<rect x="354.3" y="40.59" width="9.65" height="4.33" fill="#00e5ff"/>
<rect x="354.3" y="91.04" width="18.95" height="4.33" fill="#001aff"/>
<rect x="391.5" y="91.04" width="18.95" height="4.33" fill="#001aff"/>
<rect x="261.3" y="94.92" width="9.65" height="4.33" fill="#0000e6"/>
<rect x="270.6" y="94.92" width="9.65" height="4.33" fill="#00e5ff"/>
<rect x="279.9" y="94.92" width="9.65" height="4.33" fill="#0000e6"/>
<rect x="261.3" y="102.69" width="9.65" height="4.33" fill="#001aff"/>
<rect x="279.9" y="102.69" width="18.95" height="4.33" fill="#001aff"/>
<rect x="307.8" y="102.69" width="9.65" height="4.33" fill="#001aff"/>
<rect x="317.1" y="102.69" width="9.65" height="4.33" fill="#004dff"/>
<rect x="326.4" y="102.69" width="9.65" height="4.33" fill="#0000e6"/>
<rect x="345" y="102.69" width="9.65" height="4.33" fill="#001aff"/>
<rect x="354.3" y="102.69" width="9.65" height="4.33" fill="#0000e6"/>
<rect x="363.6" y="102.69" width="46.85" height="4.33" fill="#001aff"/>
<rect x="419.4" y="102.69" width="9.65" height="4.33" fill="#001aff"/>
<rect x="261.3" y="106.57" width="18.95" height="4.33" fill="#004dff"/>
<rect x="279.9" y="106.57" width="9.65" height="4.33" fill="#0080ff"/>
<rect x="289.2" y="106.57" width="9.65" height="4.33" fill="#004dff"/>
<rect x="298.5" y="106.57" width="9.65" height="4.33" fill="#00b2ff"/>
<rect x="307.8" y="106.57" width="9.65" height="4.33" fill="#004dff"/>
<rect x="317.1" y="106.57" width="9.65" height="4.33" fill="#0080ff"/>
<rect x="326.4" y="106.57" width="28.25" height="4.33" fill="#004dff"/>
<rect x="354.3" y="106.57" width="9.65" height="4.33" fill="#001aff"/>
<rect x="363.6" y="106.57" width="9.65" height="4.33" fill="#0080ff"/>
<rect x="372.9" y="106.57" width="9.65" height="4.33" fill="#004dff"/>
<rect x="382.2" y="106.57" width="9.65" height="4.33" fill="#0080ff"/>
<rect x="391.5" y="106.57" width="37.55" height="4.33" fill="#004dff"/>
<rect x="261.3" y="110.45" width="18.95" height="4.33" fill="#0080ff"/>
<rect x="279.9" y="110.45" width="18.95" height="4.33" fill="#004dff"/>
<rect x="298.5" y="110.45" width="9.65" height="4.33" fill="#0000e6"/>
<rect x="307.8" y="110.45" width="9.65" height="4.33" fill="#0080ff"/>
<rect x="317.1" y="110.45" width="9.65" height="4.33" fill="#00b2ff"/>
<rect x="326.4" y="110.45" width="28.25" height="4.33" fill="#004dff"/>
<rect x="354.3" y="110.45" width="9.65" height="4.33" fill="#0080ff"/>
<rect x="363.6" y="110.45" width="18.95" height="4.33" fill="#004dff"/>
<rect x="382.2" y="110.45" width="9.65" height="4.33" fill="#00b2ff"/>
<rect x="391.5" y="110.45" width="37.55" height="4.33" fill="#004dff"/>
<g transform="translate(345 79.4) scale(0.46500 0.77625)"><use href="#coast" fill="none" stroke="#000" stroke-width="1.1" stroke-linejoin="round" vector-effect="non-scaling-stroke" style="vector-effect:non-scaling-stroke"/></g>
<circle cx="265.25" cy="90.11" r="0.45" fill="#000"/>
<circle cx="275.48" cy="93.06" r="0.45" fill="#000"/>
<circle cx="302.92" cy="79.79" r="0.45" fill="#000"/>
<circle cx="427.77" cy="93.22" r="0.45" fill="#000"/>
<circle cx="422.89" cy="91.43" r="0.45" fill="#000"/>
<circle cx="419.4" cy="86.77" r="0.45" fill="#000"/>
<circle cx="421.96" cy="95.93" r="0.45" fill="#000"/>
<circle cx="371.74" cy="95.08" r="0.45" fill="#000"/>
<circle cx="317.1" cy="119.53" r="0.45" fill="#000"/>
<circle cx="328.03" cy="121.55" r="0.45" fill="#000"/>
<circle cx="377.55" cy="117.67" r="0.45" fill="#000"/>
</g>
<path d="M265.95 17.3v1.6M265.95 141.5v-1.6M270.6 17.3v1.6M270.6 141.5v-1.6M275.25 17.3v1.6M275.25 141.5v-1.6M279.9 17.3v1.6M279.9 141.5v-1.6M284.55 17.3v1.6M284.55 141.5v-1.6M289.2 17.3v1.6M289.2 141.5v-1.6M293.85 17.3v1.6M293.85 141.5v-1.6M298.5 17.3v1.6M298.5 141.5v-1.6M303.15 17.3v1.6M303.15 141.5v-1.6M307.8 17.3v1.6M307.8 141.5v-1.6M312.45 17.3v1.6M312.45 141.5v-1.6M317.1 17.3v1.6M317.1 141.5v-1.6M321.75 17.3v1.6M321.75 141.5v-1.6M326.4 17.3v1.6M326.4 141.5v-1.6M331.05 17.3v1.6M331.05 141.5v-1.6M335.7 17.3v1.6M335.7 141.5v-1.6M340.35 17.3v1.6M340.35 141.5v-1.6M345 17.3v1.6M345 141.5v-1.6M349.65 17.3v1.6M349.65 141.5v-1.6M354.3 17.3v1.6M354.3 141.5v-1.6M358.95 17.3v1.6M358.95 141.5v-1.6M363.6 17.3v1.6M363.6 141.5v-1.6M368.25 17.3v1.6M368.25 141.5v-1.6M372.9 17.3v1.6M372.9 141.5v-1.6M377.55 17.3v1.6M377.55 141.5v-1.6M382.2 17.3v1.6M382.2 141.5v-1.6M386.85 17.3v1.6M386.85 141.5v-1.6M391.5 17.3v1.6M391.5 141.5v-1.6M396.15 17.3v1.6M396.15 141.5v-1.6M400.8 17.3v1.6M400.8 141.5v-1.6M405.45 17.3v1.6M405.45 141.5v-1.6M410.1 17.3v1.6M410.1 141.5v-1.6M414.75 17.3v1.6M414.75 141.5v-1.6M419.4 17.3v1.6M419.4 141.5v-1.6M424.05 17.3v1.6M424.05 141.5v-1.6M261.3 133.74h1.6M428.7 133.74h-1.6M261.3 125.97h1.6M428.7 125.97h-1.6M261.3 118.21h1.6M428.7 118.21h-1.6M261.3 110.45h1.6M428.7 110.45h-1.6M261.3 102.69h1.6M428.7 102.69h-1.6M261.3 94.92h1.6M428.7 94.92h-1.6M261.3 87.16h1.6M428.7 87.16h-1.6M261.3 79.4h1.6M428.7 79.4h-1.6M261.3 71.64h1.6M428.7 71.64h-1.6M261.3 63.88h1.6M428.7 63.88h-1.6M261.3 56.11h1.6M428.7 56.11h-1.6M261.3 48.35h1.6M428.7 48.35h-1.6M261.3 40.59h1.6M428.7 40.59h-1.6M261.3 32.83h1.6M428.7 32.83h-1.6M261.3 25.06h1.6M428.7 25.06h-1.6" stroke="#9a9a9a" stroke-width="0.6" fill="none"/>
<rect x="261.3" y="17.3" width="167.4" height="124.2" fill="none" stroke="#a0a0a0" stroke-width="1"/>
<g clip-path="url(#clipc)">
<path d="M55.7 194.2V311.3M77.8 194.2V311.3M99.9 194.2V311.3M122 194.2V311.3M144.1 194.2V311.3M166.2 194.2V311.3M188.3 194.2V311.3M33.6 296.66H210.4M33.6 274.71H210.4M33.6 252.75H210.4M33.6 230.79H210.4M33.6 208.84H210.4" stroke="#e0e0e0" stroke-width="0.65" fill="none"/>
<rect x="33.6" y="212.5" width="10.17" height="4.11" fill="#e5ff1a"/>
<rect x="43.42" y="212.5" width="10.17" height="4.11" fill="#80ff80"/>
<rect x="53.24" y="212.5" width="10.17" height="4.11" fill="#e50000"/>
<rect x="82.71" y="212.5" width="10.17" height="4.11" fill="#b30000"/>
<rect x="102.36" y="212.5" width="29.82" height="4.11" fill="#b30000"/>
<rect x="141.64" y="212.5" width="10.17" height="4.11" fill="#4dffb2"/>
<rect x="151.47" y="212.5" width="10.17" height="4.11" fill="#ffb300"/>
<rect x="161.29" y="212.5" width="10.17" height="4.11" fill="#ff8000"/>
<rect x="171.11" y="212.5" width="10.17" height="4.11" fill="#800000"/>
<rect x="180.93" y="212.5" width="29.82" height="4.11" fill="#e50000"/>
<rect x="33.6" y="216.16" width="10.17" height="4.11" fill="#1affe5"/>
<rect x="43.42" y="216.16" width="10.17" height="4.11" fill="#e5ff1a"/>
<rect x="53.24" y="216.16" width="10.17" height="4.11" fill="#b30000"/>
<rect x="63.07" y="216.16" width="10.17" height="4.11" fill="#b3ff4c"/>
<rect x="72.89" y="216.16" width="10.17" height="4.11" fill="#800000"/>
<rect x="82.71" y="216.16" width="10.17" height="4.11" fill="#b30000"/>
<rect x="102.36" y="216.16" width="19.99" height="4.11" fill="#e5ff1a"/>
<rect x="122" y="216.16" width="10.17" height="4.11" fill="#800000"/>
<rect x="131.82" y="216.16" width="29.82" height="4.11" fill="#b30000"/>
<rect x="161.29" y="216.16" width="10.17" height="4.11" fill="#00b2ff"/>
<rect x="171.11" y="216.16" width="19.99" height="4.11" fill="#b30000"/>
<rect x="190.76" y="216.16" width="10.17" height="4.11" fill="#4dffb2"/>
<rect x="200.58" y="216.16" width="10.17" height="4.11" fill="#b3ff4c"/>
<rect x="33.6" y="219.82" width="10.17" height="4.11" fill="#ffe500"/>
<rect x="43.42" y="219.82" width="10.17" height="4.11" fill="#4dffb2"/>
<rect x="63.07" y="219.82" width="10.17" height="4.11" fill="#4dffb2"/>
<rect x="72.89" y="219.82" width="10.17" height="4.11" fill="#ff4c00"/>
<rect x="82.71" y="219.82" width="10.17" height="4.11" fill="#b30000"/>
<rect x="92.53" y="219.82" width="10.17" height="4.11" fill="#ffe500"/>
<rect x="112.18" y="219.82" width="10.17" height="4.11" fill="#ff1a00"/>
<rect x="122" y="219.82" width="10.17" height="4.11" fill="#80ff80"/>
<rect x="131.82" y="219.82" width="10.17" height="4.11" fill="#e5ff1a"/>
<rect x="141.64" y="219.82" width="10.17" height="4.11" fill="#0000e6"/>
<rect x="151.47" y="219.82" width="19.99" height="4.11" fill="#00b2ff"/>
<rect x="171.11" y="219.82" width="10.17" height="4.11" fill="#00e5ff"/>
<rect x="180.93" y="219.82" width="10.17" height="4.11" fill="#ff8000"/>
<rect x="190.76" y="219.82" width="10.17" height="4.11" fill="#00e5ff"/>
<rect x="200.58" y="219.82" width="10.17" height="4.11" fill="#e5ff1a"/>
<rect x="33.6" y="223.47" width="10.17" height="4.11" fill="#004dff"/>
<rect x="43.42" y="223.47" width="10.17" height="4.11" fill="#ff1a00"/>
<rect x="53.24" y="223.47" width="10.17" height="4.11" fill="#b3ff4c"/>
<rect x="72.89" y="223.47" width="19.99" height="4.11" fill="#00e5ff"/>
<rect x="92.53" y="223.47" width="10.17" height="4.11" fill="#00b2ff"/>
<rect x="102.36" y="223.47" width="10.17" height="4.11" fill="#1affe5"/>
<rect x="112.18" y="223.47" width="10.17" height="4.11" fill="#00e5ff"/>
<rect x="122" y="223.47" width="10.17" height="4.11" fill="#80ff80"/>
<rect x="131.82" y="223.47" width="10.17" height="4.11" fill="#00e5ff"/>
<rect x="141.64" y="223.47" width="19.99" height="4.11" fill="#0000e6"/>
<rect x="161.29" y="223.47" width="10.17" height="4.11" fill="#00b2ff"/>
<rect x="171.11" y="223.47" width="10.17" height="4.11" fill="#004dff"/>
<rect x="180.93" y="223.47" width="19.99" height="4.11" fill="#00e5ff"/>
<rect x="33.6" y="227.13" width="19.99" height="4.11" fill="#1affe5"/>
<rect x="53.24" y="227.13" width="10.17" height="4.11" fill="#80ff80"/>
<rect x="63.07" y="227.13" width="10.17" height="4.11" fill="#0080ff"/>
<rect x="72.89" y="227.13" width="10.17" height="4.11" fill="#1affe5"/>
<rect x="82.71" y="227.13" width="10.17" height="4.11" fill="#0080ff"/>
<rect x="122" y="227.13" width="19.99" height="4.11" fill="#00b2ff"/>
<rect x="141.64" y="227.13" width="19.99" height="4.11" fill="#001aff"/>
<rect x="180.93" y="227.13" width="10.17" height="4.11" fill="#001aff"/>
<rect x="190.76" y="227.13" width="10.17" height="4.11" fill="#00e5ff"/>
<rect x="200.58" y="227.13" width="10.17" height="4.11" fill="#80ff80"/>
<rect x="33.6" y="230.79" width="10.17" height="4.11" fill="#4dffb2"/>
<rect x="43.42" y="230.79" width="10.17" height="4.11" fill="#004dff"/>
<rect x="53.24" y="230.79" width="10.17" height="4.11" fill="#b3ff4c"/>
<rect x="82.71" y="230.79" width="10.17" height="4.11" fill="#0080ff"/>
<rect x="92.53" y="230.79" width="10.17" height="4.11" fill="#004dff"/>
<rect x="102.36" y="230.79" width="10.17" height="4.11" fill="#0080ff"/>
<rect x="112.18" y="230.79" width="10.17" height="4.11" fill="#00e5ff"/>
<rect x="122" y="230.79" width="10.17" height="4.11" fill="#4dffb2"/>
<rect x="151.47" y="230.79" width="19.99" height="4.11" fill="#00b2ff"/>
<rect x="171.11" y="230.79" width="10.17" height="4.11" fill="#0000e6"/>
<rect x="180.93" y="230.79" width="10.17" height="4.11" fill="#004dff"/>
<rect x="190.76" y="230.79" width="10.17" height="4.11" fill="#0080ff"/>
<rect x="53.24" y="234.45" width="10.17" height="4.11" fill="#004dff"/>
<rect x="72.89" y="234.45" width="19.99" height="4.11" fill="#004dff"/>
<rect x="102.36" y="234.45" width="10.17" height="4.11" fill="#004dff"/>
<rect x="141.64" y="234.45" width="19.99" height="4.11" fill="#004dff"/>
<rect x="180.93" y="234.45" width="10.17" height="4.11" fill="#00b2ff"/>
<rect x="190.76" y="234.45" width="10.17" height="4.11" fill="#0000e6"/>
<rect x="200.58" y="234.45" width="10.17" height="4.11" fill="#00b2ff"/>
<rect x="33.6" y="238.11" width="19.99" height="4.11" fill="#004dff"/>
<rect x="63.07" y="238.11" width="10.17" height="4.11" fill="#00e5ff"/>
<rect x="72.89" y="238.11" width="10.17" height="4.11" fill="#004dff"/>
<rect x="92.53" y="238.11" width="19.99" height="4.11" fill="#004dff"/>
<rect x="131.82" y="238.11" width="10.17" height="4.11" fill="#0000e6"/>
<rect x="141.64" y="238.11" width="10.17" height="4.11" fill="#004dff"/>
<rect x="161.29" y="238.11" width="19.99" height="4.11" fill="#004dff"/>
<rect x="33.6" y="241.77" width="19.99" height="4.11" fill="#0000e6"/>
<rect x="63.07" y="241.77" width="19.99" height="4.11" fill="#001aff"/>
<rect x="92.53" y="241.77" width="10.17" height="4.11" fill="#004dff"/>
<rect x="102.36" y="241.77" width="10.17" height="4.11" fill="#001aff"/>
<rect x="112.18" y="241.77" width="10.17" height="4.11" fill="#004dff"/>
<rect x="131.82" y="241.77" width="10.17" height="4.11" fill="#004dff"/>
<rect x="141.64" y="241.77" width="10.17" height="4.11" fill="#0080ff"/>
<rect x="161.29" y="241.77" width="10.17" height="4.11" fill="#00b2ff"/>
<rect x="171.11" y="241.77" width="10.17" height="4.11" fill="#004dff"/>
<rect x="171.11" y="245.43" width="10.17" height="4.11" fill="#0000e6"/>
<rect x="180.93" y="245.43" width="10.17" height="4.11" fill="#004dff"/>
<rect x="33.6" y="249.09" width="10.17" height="4.11" fill="#ff1a00"/>
<rect x="43.42" y="249.09" width="10.17" height="4.11" fill="#00e5ff"/>
<rect x="92.53" y="249.09" width="19.99" height="4.11" fill="#001aff"/>
<rect x="151.47" y="249.09" width="19.99" height="4.11" fill="#004dff"/>
<rect x="171.11" y="249.09" width="10.17" height="4.11" fill="#1affe5"/>
<rect x="190.76" y="249.09" width="10.17" height="4.11" fill="#ff8000"/>
<rect x="43.42" y="252.75" width="10.17" height="4.11" fill="#4dffb2"/>
<rect x="53.24" y="252.75" width="10.17" height="4.11" fill="#001aff"/>
<rect x="72.89" y="252.75" width="10.17" height="4.11" fill="#004dff"/>
<rect x="131.82" y="252.75" width="10.17" height="4.11" fill="#001aff"/>
<rect x="151.47" y="252.75" width="19.99" height="4.11" fill="#004dff"/>
<rect x="180.93" y="252.75" width="10.17" height="4.11" fill="#80ff80"/>
<rect x="200.58" y="252.75" width="10.17" height="4.11" fill="#b3ff4c"/>
<rect x="82.71" y="256.41" width="19.99" height="4.11" fill="#004dff"/>
<rect x="112.18" y="256.41" width="19.99" height="4.11" fill="#004dff"/>
<rect x="161.29" y="256.41" width="10.17" height="4.11" fill="#004dff"/>
<rect x="180.93" y="256.41" width="10.17" height="4.11" fill="#004dff"/>
<rect x="190.76" y="256.41" width="10.17" height="4.11" fill="#4dffb2"/>
<rect x="200.58" y="256.41" width="10.17" height="4.11" fill="#004dff"/>
<rect x="43.42" y="260.07" width="19.99" height="4.11" fill="#001aff"/>
<rect x="82.71" y="260.07" width="19.99" height="4.11" fill="#004dff"/>
<rect x="112.18" y="260.07" width="10.17" height="4.11" fill="#00b2ff"/>
<rect x="122" y="260.07" width="10.17" height="4.11" fill="#001aff"/>
<rect x="151.47" y="260.07" width="10.17" height="4.11" fill="#004dff"/>
<rect x="190.76" y="260.07" width="10.17" height="4.11" fill="#0000e6"/>
<rect x="53.24" y="263.73" width="19.99" height="4.11" fill="#0000e6"/>
<rect x="72.89" y="263.73" width="10.17" height="4.11" fill="#001aff"/>
<rect x="82.71" y="263.73" width="10.17" height="4.11" fill="#004dff"/>
<rect x="102.36" y="263.73" width="10.17" height="4.11" fill="#004dff"/>
<rect x="122" y="263.73" width="19.99" height="4.11" fill="#0000e6"/>
<rect x="141.64" y="263.73" width="10.17" height="4.11" fill="#001aff"/>
<rect x="151.47" y="263.73" width="10.17" height="4.11" fill="#004dff"/>
<rect x="171.11" y="263.73" width="10.17" height="4.11" fill="#0000e6"/>
<rect x="63.07" y="267.39" width="19.99" height="4.11" fill="#004dff"/>
<rect x="92.53" y="267.39" width="29.82" height="4.11" fill="#004dff"/>
<rect x="131.82" y="267.39" width="10.17" height="4.11" fill="#0000e6"/>
<rect x="141.64" y="267.39" width="10.17" height="4.11" fill="#001aff"/>
<rect x="161.29" y="267.39" width="10.17" height="4.11" fill="#0000e6"/>
<rect x="171.11" y="267.39" width="10.17" height="4.11" fill="#004dff"/>
<rect x="180.93" y="267.39" width="10.17" height="4.11" fill="#0000e6"/>
<rect x="190.76" y="267.39" width="19.99" height="4.11" fill="#001aff"/>
<rect x="33.6" y="271.05" width="10.17" height="4.11" fill="#001aff"/>
<rect x="43.42" y="271.05" width="10.17" height="4.11" fill="#0000e6"/>
<rect x="63.07" y="271.05" width="19.99" height="4.11" fill="#004dff"/>
<rect x="92.53" y="271.05" width="10.17" height="4.11" fill="#004dff"/>
<rect x="112.18" y="271.05" width="10.17" height="4.11" fill="#004dff"/>
<rect x="141.64" y="271.05" width="19.99" height="4.11" fill="#004dff"/>
<rect x="161.29" y="271.05" width="10.17" height="4.11" fill="#001aff"/>
<rect x="171.11" y="271.05" width="19.99" height="4.11" fill="#004dff"/>
<rect x="200.58" y="271.05" width="10.17" height="4.11" fill="#004dff"/>
<rect x="33.6" y="274.71" width="29.82" height="4.11" fill="#004dff"/>
<rect x="63.07" y="274.71" width="10.17" height="4.11" fill="#00e5ff"/>
<rect x="72.89" y="274.71" width="19.99" height="4.11" fill="#004dff"/>
<rect x="92.53" y="274.71" width="10.17" height="4.11" fill="#00e5ff"/>
<rect x="102.36" y="274.71" width="10.17" height="4.11" fill="#001aff"/>
<rect x="122" y="274.71" width="39.64" height="4.11" fill="#004dff"/>
<rect x="171.11" y="274.71" width="39.64" height="4.11" fill="#004dff"/>
<rect x="33.6" y="278.37" width="10.17" height="4.11" fill="#0080ff"/>
<rect x="43.42" y="278.37" width="10.17" height="4.11" fill="#00e5ff"/>
<rect x="53.24" y="278.37" width="10.17" height="4.11" fill="#00b2ff"/>
<rect x="72.89" y="278.37" width="19.99" height="4.11" fill="#00e5ff"/>
<rect x="92.53" y="278.37" width="10.17" height="4.11" fill="#00b2ff"/>
<rect x="112.18" y="278.37" width="10.17" height="4.11" fill="#001aff"/>
<rect x="122" y="278.37" width="10.17" height="4.11" fill="#0080ff"/>
<rect x="131.82" y="278.37" width="10.17" height="4.11" fill="#00b2ff"/>
<rect x="151.47" y="278.37" width="19.99" height="4.11" fill="#00e5ff"/>
<rect x="180.93" y="278.37" width="19.99" height="4.11" fill="#0080ff"/>
<rect x="200.58" y="278.37" width="10.17" height="4.11" fill="#1affe5"/>
<rect x="33.6" y="282.02" width="10.17" height="4.11" fill="#00b2ff"/>
<rect x="43.42" y="282.02" width="29.82" height="4.11" fill="#00e5ff"/>
<rect x="72.89" y="282.02" width="19.99" height="4.11" fill="#00b2ff"/>
<rect x="92.53" y="282.02" width="10.17" height="4.11" fill="#0080ff"/>
<rect x="102.36" y="282.02" width="10.17" height="4.11" fill="#00e5ff"/>
<rect x="112.18" y="282.02" width="49.46" height="4.11" fill="#00b2ff"/>
<rect x="161.29" y="282.02" width="10.17" height="4.11" fill="#00e5ff"/>
<rect x="171.11" y="282.02" width="10.17" height="4.11" fill="#0080ff"/>
<rect x="180.93" y="282.02" width="10.17" height="4.11" fill="#00e5ff"/>
<rect x="190.76" y="282.02" width="19.99" height="4.11" fill="#00b2ff"/>
<rect x="33.6" y="285.68" width="10.17" height="4.11" fill="#00e5ff"/>
<rect x="43.42" y="285.68" width="29.82" height="4.11" fill="#00b2ff"/>
<rect x="72.89" y="285.68" width="29.82" height="4.11" fill="#00e5ff"/>
<rect x="102.36" y="285.68" width="10.17" height="4.11" fill="#0080ff"/>
<rect x="112.18" y="285.68" width="10.17" height="4.11" fill="#00b2ff"/>
<rect x="122" y="285.68" width="10.17" height="4.11" fill="#0080ff"/>
<rect x="131.82" y="285.68" width="29.82" height="4.11" fill="#00b2ff"/>
<rect x="161.29" y="285.68" width="10.17" height="4.11" fill="#00e5ff"/>
<rect x="171.11" y="285.68" width="10.17" height="4.11" fill="#00b2ff"/>
<rect x="180.93" y="285.68" width="19.99" height="4.11" fill="#00e5ff"/>
<rect x="200.58" y="285.68" width="10.17" height="4.11" fill="#00b2ff"/>
<rect x="33.6" y="289.34" width="59.28" height="4.11" fill="#00e5ff"/>
<rect x="92.53" y="289.34" width="10.17" height="4.11" fill="#00b2ff"/>
<rect x="102.36" y="289.34" width="10.17" height="4.11" fill="#0080ff"/>
<rect x="112.18" y="289.34" width="10.17" height="4.11" fill="#00e5ff"/>
<rect x="122" y="289.34" width="10.17" height="4.11" fill="#00b2ff"/>
<rect x="131.82" y="289.34" width="59.28" height="4.11" fill="#00e5ff"/>
<rect x="190.76" y="289.34" width="19.99" height="4.11" fill="#00b2ff"/>
<g transform="translate(122 252.75) scale(0.49111 0.73188)"><use href="#coast" fill="none" stroke="#000" stroke-width="1.1" stroke-linejoin="round" vector-effect="non-scaling-stroke" style="vector-effect:non-scaling-stroke"/></g>
<circle cx="37.77" cy="262.85" r="0.45" fill="#000"/>
<circle cx="48.58" cy="265.63" r="0.45" fill="#000"/>
<circle cx="77.55" cy="253.12" r="0.45" fill="#000"/>
<circle cx="209.42" cy="265.78" r="0.45" fill="#000"/>
<circle cx="204.26" cy="264.09" r="0.45" fill="#000"/>
<circle cx="200.58" cy="259.7" r="0.45" fill="#000"/>
<circle cx="203.28" cy="268.34" r="0.45" fill="#000"/>
<circle cx="150.24" cy="267.53" r="0.45" fill="#000"/>
<circle cx="92.53" cy="290.59" r="0.45" fill="#000"/>
<circle cx="104.07" cy="292.49" r="0.45" fill="#000"/>
<circle cx="156.38" cy="288.83" r="0.45" fill="#000"/>
</g>
<path d="M38.51 194.2v1.6M38.51 311.3v-1.6M43.42 194.2v1.6M43.42 311.3v-1.6M48.33 194.2v1.6M48.33 311.3v-1.6M53.24 194.2v1.6M53.24 311.3v-1.6M58.16 194.2v1.6M58.16 311.3v-1.6M63.07 194.2v1.6M63.07 311.3v-1.6M67.98 194.2v1.6M67.98 311.3v-1.6M72.89 194.2v1.6M72.89 311.3v-1.6M77.8 194.2v1.6M77.8 311.3v-1.6M82.71 194.2v1.6M82.71 311.3v-1.6M87.62 194.2v1.6M87.62 311.3v-1.6M92.53 194.2v1.6M92.53 311.3v-1.6M97.44 194.2v1.6M97.44 311.3v-1.6M102.36 194.2v1.6M102.36 311.3v-1.6M107.27 194.2v1.6M107.27 311.3v-1.6M112.18 194.2v1.6M112.18 311.3v-1.6M117.09 194.2v1.6M117.09 311.3v-1.6M122 194.2v1.6M122 311.3v-1.6M126.91 194.2v1.6M126.91 311.3v-1.6M131.82 194.2v1.6M131.82 311.3v-1.6M136.73 194.2v1.6M136.73 311.3v-1.6M141.64 194.2v1.6M141.64 311.3v-1.6M146.56 194.2v1.6M146.56 311.3v-1.6M151.47 194.2v1.6M151.47 311.3v-1.6M156.38 194.2v1.6M156.38 311.3v-1.6M161.29 194.2v1.6M161.29 311.3v-1.6M166.2 194.2v1.6M166.2 311.3v-1.6M171.11 194.2v1.6M171.11 311.3v-1.6M176.02 194.2v1.6M176.02 311.3v-1.6M180.93 194.2v1.6M180.93 311.3v-1.6M185.84 194.2v1.6M185.84 311.3v-1.6M190.76 194.2v1.6M190.76 311.3v-1.6M195.67 194.2v1.6M195.67 311.3v-1.6M200.58 194.2v1.6M200.58 311.3v-1.6M205.49 194.2v1.6M205.49 311.3v-1.6M33.6 303.98h1.6M210.4 303.98h-1.6M33.6 296.66h1.6M210.4 296.66h-1.6M33.6 289.34h1.6M210.4 289.34h-1.6M33.6 282.02h1.6M210.4 282.02h-1.6M33.6 274.71h1.6M210.4 274.71h-1.6M33.6 267.39h1.6M210.4 267.39h-1.6M33.6 260.07h1.6M210.4 260.07h-1.6M33.6 252.75h1.6M210.4 252.75h-1.6M33.6 245.43h1.6M210.4 245.43h-1.6M33.6 238.11h1.6M210.4 238.11h-1.6M33.6 230.79h1.6M210.4 230.79h-1.6M33.6 223.47h1.6M210.4 223.47h-1.6M33.6 216.16h1.6M210.4 216.16h-1.6M33.6 208.84h1.6M210.4 208.84h-1.6M33.6 201.52h1.6M210.4 201.52h-1.6" stroke="#9a9a9a" stroke-width="0.6" fill="none"/>
<rect x="33.6" y="194.2" width="176.8" height="117.1" fill="none" stroke="#a0a0a0" stroke-width="1"/>
<g clip-path="url(#clipd)">
<path d="M281.79 194.2V311M302.77 194.2V311M323.76 194.2V311M344.75 194.2V311M365.74 194.2V311M386.73 194.2V311M407.71 194.2V311M260.8 296.4H428.7M260.8 274.5H428.7M260.8 252.6H428.7M260.8 230.7H428.7M260.8 208.8H428.7" stroke="#e0e0e0" stroke-width="0.65" fill="none"/>
<rect x="260.8" y="216.1" width="9.68" height="4.1" fill="#ff4c00"/>
<rect x="270.13" y="216.1" width="9.68" height="4.1" fill="#b3ff4c"/>
<rect x="279.46" y="216.1" width="9.68" height="4.1" fill="#80ff80"/>
<rect x="288.78" y="216.1" width="9.68" height="4.1" fill="#b3ff4c"/>
<rect x="298.11" y="216.1" width="9.68" height="4.1" fill="#e50000"/>
<rect x="307.44" y="216.1" width="9.68" height="4.1" fill="#ff8000"/>
<rect x="316.77" y="216.1" width="19.01" height="4.1" fill="#1affe5"/>
<rect x="335.42" y="216.1" width="9.68" height="4.1" fill="#ffb300"/>
<rect x="344.75" y="216.1" width="9.68" height="4.1" fill="#ffe500"/>
<rect x="354.08" y="216.1" width="9.68" height="4.1" fill="#e5ff1a"/>
<rect x="363.41" y="216.1" width="9.68" height="4.1" fill="#ff8000"/>
<rect x="372.73" y="216.1" width="9.68" height="4.1" fill="#e50000"/>
<rect x="382.06" y="216.1" width="9.68" height="4.1" fill="#e5ff1a"/>
<rect x="391.39" y="216.1" width="9.68" height="4.1" fill="#ffb300"/>
<rect x="400.72" y="216.1" width="19.01" height="4.1" fill="#e50000"/>
<rect x="419.37" y="216.1" width="9.68" height="4.1" fill="#ffe500"/>
<rect x="260.8" y="219.75" width="9.68" height="4.1" fill="#4dffb2"/>
<rect x="270.13" y="219.75" width="9.68" height="4.1" fill="#800000"/>
<rect x="279.46" y="219.75" width="9.68" height="4.1" fill="#80ff80"/>
<rect x="288.78" y="219.75" width="9.68" height="4.1" fill="#ff8000"/>
<rect x="298.11" y="219.75" width="9.68" height="4.1" fill="#1affe5"/>
<rect x="307.44" y="219.75" width="9.68" height="4.1" fill="#ffb300"/>
<rect x="316.77" y="219.75" width="19.01" height="4.1" fill="#1affe5"/>
<rect x="335.42" y="219.75" width="9.68" height="4.1" fill="#b3ff4c"/>
<rect x="344.75" y="219.75" width="19.01" height="4.1" fill="#ffe500"/>
<rect x="363.41" y="219.75" width="9.68" height="4.1" fill="#b3ff4c"/>
<rect x="372.73" y="219.75" width="19.01" height="4.1" fill="#e5ff1a"/>
<rect x="391.39" y="219.75" width="9.68" height="4.1" fill="#ff8000"/>
<rect x="400.72" y="219.75" width="9.68" height="4.1" fill="#ff4c00"/>
<rect x="410.04" y="219.75" width="9.68" height="4.1" fill="#ff8000"/>
<rect x="419.37" y="219.75" width="9.68" height="4.1" fill="#e5ff1a"/>
<rect x="260.8" y="223.4" width="9.68" height="4.1" fill="#4dffb2"/>
<rect x="270.13" y="223.4" width="9.68" height="4.1" fill="#00b2ff"/>
<rect x="279.46" y="223.4" width="9.68" height="4.1" fill="#00e5ff"/>
<rect x="288.78" y="223.4" width="9.68" height="4.1" fill="#80ff80"/>
<rect x="298.11" y="223.4" width="9.68" height="4.1" fill="#1affe5"/>
<rect x="307.44" y="223.4" width="37.66" height="4.1" fill="#00e5ff"/>
<rect x="344.75" y="223.4" width="9.68" height="4.1" fill="#b30000"/>
<rect x="354.08" y="223.4" width="9.68" height="4.1" fill="#ffe500"/>
<rect x="363.41" y="223.4" width="19.01" height="4.1" fill="#4dffb2"/>
<rect x="382.06" y="223.4" width="9.68" height="4.1" fill="#1affe5"/>
<rect x="391.39" y="223.4" width="9.68" height="4.1" fill="#4dffb2"/>
<rect x="400.72" y="223.4" width="9.68" height="4.1" fill="#80ff80"/>
<rect x="410.04" y="223.4" width="19.01" height="4.1" fill="#4dffb2"/>
<rect x="279.46" y="227.05" width="9.68" height="4.1" fill="#00b2ff"/>
<rect x="288.78" y="227.05" width="9.68" height="4.1" fill="#80ff80"/>
<rect x="298.11" y="227.05" width="9.68" height="4.1" fill="#1affe5"/>
<rect x="307.44" y="227.05" width="28.33" height="4.1" fill="#00e5ff"/>
<rect x="344.75" y="227.05" width="9.68" height="4.1" fill="#1affe5"/>
<rect x="354.08" y="227.05" width="9.68" height="4.1" fill="#ffe500"/>
<rect x="363.41" y="227.05" width="9.68" height="4.1" fill="#00e5ff"/>
<rect x="372.73" y="227.05" width="19.01" height="4.1" fill="#4dffb2"/>
<rect x="391.39" y="227.05" width="9.68" height="4.1" fill="#0080ff"/>
<rect x="410.04" y="227.05" width="9.68" height="4.1" fill="#0080ff"/>
<rect x="419.37" y="227.05" width="9.68" height="4.1" fill="#004dff"/>
<rect x="260.8" y="230.7" width="9.68" height="4.1" fill="#0080ff"/>
<rect x="270.13" y="230.7" width="9.68" height="4.1" fill="#00b2ff"/>
<rect x="288.78" y="230.7" width="9.68" height="4.1" fill="#004dff"/>
<rect x="335.42" y="230.7" width="9.68" height="4.1" fill="#1affe5"/>
<rect x="344.75" y="230.7" width="9.68" height="4.1" fill="#4dffb2"/>
<rect x="354.08" y="230.7" width="9.68" height="4.1" fill="#80ff80"/>
<rect x="391.39" y="230.7" width="19.01" height="4.1" fill="#004dff"/>
<rect x="410.04" y="230.7" width="9.68" height="4.1" fill="#001aff"/>
<rect x="419.37" y="230.7" width="9.68" height="4.1" fill="#004dff"/>
<rect x="288.78" y="234.35" width="9.68" height="4.1" fill="#004dff"/>
<rect x="307.44" y="234.35" width="9.68" height="4.1" fill="#004dff"/>
<rect x="354.08" y="234.35" width="19.01" height="4.1" fill="#00e5ff"/>
<rect x="391.39" y="234.35" width="19.01" height="4.1" fill="#004dff"/>
<rect x="419.37" y="234.35" width="9.68" height="4.1" fill="#004dff"/>
<rect x="260.8" y="241.65" width="9.68" height="4.1" fill="#00e5ff"/>
<rect x="279.46" y="241.65" width="9.68" height="4.1" fill="#00e5ff"/>
<rect x="298.11" y="241.65" width="9.68" height="4.1" fill="#00e5ff"/>
<rect x="307.44" y="241.65" width="9.68" height="4.1" fill="#004dff"/>
<rect x="316.77" y="241.65" width="19.01" height="4.1" fill="#00e5ff"/>
<rect x="391.39" y="241.65" width="9.68" height="4.1" fill="#00b2ff"/>
<rect x="419.37" y="241.65" width="9.68" height="4.1" fill="#00b2ff"/>
<rect x="344.75" y="245.3" width="9.68" height="4.1" fill="#1affe5"/>
<rect x="363.41" y="245.3" width="9.68" height="4.1" fill="#1affe5"/>
<rect x="372.73" y="245.3" width="19.01" height="4.1" fill="#00e5ff"/>
<rect x="410.04" y="245.3" width="9.68" height="4.1" fill="#00e5ff"/>
<rect x="335.42" y="248.95" width="9.68" height="4.1" fill="#1affe5"/>
<rect x="344.75" y="248.95" width="9.68" height="4.1" fill="#00e5ff"/>
<rect x="372.73" y="248.95" width="19.01" height="4.1" fill="#00e5ff"/>
<rect x="391.39" y="248.95" width="9.68" height="4.1" fill="#1affe5"/>
<rect x="270.13" y="252.6" width="19.01" height="4.1" fill="#1affe5"/>
<rect x="410.04" y="252.6" width="9.68" height="4.1" fill="#00e5ff"/>
<rect x="298.11" y="256.25" width="9.68" height="4.1" fill="#1affe5"/>
<rect x="344.75" y="256.25" width="9.68" height="4.1" fill="#0080ff"/>
<rect x="288.78" y="259.9" width="9.68" height="4.1" fill="#0080ff"/>
<rect x="307.44" y="259.9" width="9.68" height="4.1" fill="#004dff"/>
<rect x="335.42" y="259.9" width="9.68" height="4.1" fill="#004dff"/>
<rect x="344.75" y="259.9" width="9.68" height="4.1" fill="#001aff"/>
<rect x="363.41" y="259.9" width="19.01" height="4.1" fill="#004dff"/>
<rect x="270.13" y="263.55" width="9.68" height="4.1" fill="#004dff"/>
<rect x="298.11" y="263.55" width="9.68" height="4.1" fill="#004dff"/>
<rect x="335.42" y="263.55" width="9.68" height="4.1" fill="#0080ff"/>
<rect x="419.37" y="263.55" width="9.68" height="4.1" fill="#001aff"/>
<rect x="270.13" y="267.2" width="9.68" height="4.1" fill="#001aff"/>
<rect x="279.46" y="267.2" width="9.68" height="4.1" fill="#004dff"/>
<rect x="288.78" y="267.2" width="9.68" height="4.1" fill="#001aff"/>
<rect x="298.11" y="267.2" width="9.68" height="4.1" fill="#004dff"/>
<rect x="316.77" y="267.2" width="9.68" height="4.1" fill="#004dff"/>
<rect x="326.09" y="267.2" width="9.68" height="4.1" fill="#0000e6"/>
<rect x="335.42" y="267.2" width="9.68" height="4.1" fill="#004dff"/>
<rect x="344.75" y="267.2" width="19.01" height="4.1" fill="#001aff"/>
<rect x="363.41" y="267.2" width="9.68" height="4.1" fill="#004dff"/>
<rect x="382.06" y="267.2" width="9.68" height="4.1" fill="#0080ff"/>
<rect x="391.39" y="267.2" width="9.68" height="4.1" fill="#001aff"/>
<rect x="400.72" y="267.2" width="9.68" height="4.1" fill="#004dff"/>
<rect x="410.04" y="267.2" width="19.01" height="4.1" fill="#001aff"/>
<rect x="260.8" y="270.85" width="9.68" height="4.1" fill="#00b2ff"/>
<rect x="270.13" y="270.85" width="19.01" height="4.1" fill="#004dff"/>
<rect x="288.78" y="270.85" width="9.68" height="4.1" fill="#001aff"/>
<rect x="307.44" y="270.85" width="9.68" height="4.1" fill="#0000e6"/>
<rect x="316.77" y="270.85" width="9.68" height="4.1" fill="#001aff"/>
<rect x="326.09" y="270.85" width="9.68" height="4.1" fill="#0000e6"/>
<rect x="344.75" y="270.85" width="9.68" height="4.1" fill="#004dff"/>
<rect x="354.08" y="270.85" width="28.33" height="4.1" fill="#001aff"/>
<rect x="382.06" y="270.85" width="9.68" height="4.1" fill="#00e5ff"/>
<rect x="391.39" y="270.85" width="9.68" height="4.1" fill="#001aff"/>
<rect x="410.04" y="270.85" width="9.68" height="4.1" fill="#004dff"/>
<rect x="419.37" y="270.85" width="9.68" height="4.1" fill="#0000e6"/>
<rect x="270.13" y="274.5" width="9.68" height="4.1" fill="#0080ff"/>
<rect x="279.46" y="274.5" width="9.68" height="4.1" fill="#004dff"/>
<rect x="288.78" y="274.5" width="9.68" height="4.1" fill="#0080ff"/>
<rect x="298.11" y="274.5" width="9.68" height="4.1" fill="#00e5ff"/>
<rect x="307.44" y="274.5" width="9.68" height="4.1" fill="#004dff"/>
<rect x="326.09" y="274.5" width="9.68" height="4.1" fill="#00b2ff"/>
<rect x="335.42" y="274.5" width="9.68" height="4.1" fill="#0080ff"/>
<rect x="344.75" y="274.5" width="9.68" height="4.1" fill="#004dff"/>
<rect x="354.08" y="274.5" width="9.68" height="4.1" fill="#0080ff"/>
<rect x="391.39" y="274.5" width="9.68" height="4.1" fill="#001aff"/>
<rect x="400.72" y="274.5" width="19.01" height="4.1" fill="#004dff"/>
<rect x="419.37" y="274.5" width="9.68" height="4.1" fill="#0080ff"/>
<rect x="260.8" y="278.15" width="9.68" height="4.1" fill="#00b2ff"/>
<rect x="270.13" y="278.15" width="9.68" height="4.1" fill="#00e5ff"/>
<rect x="298.11" y="278.15" width="9.68" height="4.1" fill="#00e5ff"/>
<rect x="307.44" y="278.15" width="9.68" height="4.1" fill="#0080ff"/>
<rect x="316.77" y="278.15" width="19.01" height="4.1" fill="#4dffb2"/>
<rect x="335.42" y="278.15" width="9.68" height="4.1" fill="#00e5ff"/>
<rect x="344.75" y="278.15" width="9.68" height="4.1" fill="#4dffb2"/>
<rect x="363.41" y="278.15" width="9.68" height="4.1" fill="#0080ff"/>
<rect x="372.73" y="278.15" width="19.01" height="4.1" fill="#00e5ff"/>
<rect x="400.72" y="278.15" width="9.68" height="4.1" fill="#0080ff"/>
<rect x="410.04" y="278.15" width="9.68" height="4.1" fill="#004dff"/>
<rect x="419.37" y="278.15" width="9.68" height="4.1" fill="#1affe5"/>
<rect x="260.8" y="281.8" width="9.68" height="4.1" fill="#00b2ff"/>
<rect x="270.13" y="281.8" width="9.68" height="4.1" fill="#00e5ff"/>
<rect x="279.46" y="281.8" width="9.68" height="4.1" fill="#4dffb2"/>
<rect x="288.78" y="281.8" width="56.32" height="4.1" fill="#00e5ff"/>
<rect x="344.75" y="281.8" width="9.68" height="4.1" fill="#4dffb2"/>
<rect x="354.08" y="281.8" width="9.68" height="4.1" fill="#004dff"/>
<rect x="363.41" y="281.8" width="19.01" height="4.1" fill="#80ff80"/>
<rect x="382.06" y="281.8" width="19.01" height="4.1" fill="#0080ff"/>
<rect x="400.72" y="281.8" width="9.68" height="4.1" fill="#4dffb2"/>
<rect x="410.04" y="281.8" width="9.68" height="4.1" fill="#0080ff"/>
<rect x="260.8" y="285.45" width="9.68" height="4.1" fill="#00b2ff"/>
<rect x="270.13" y="285.45" width="9.68" height="4.1" fill="#00e5ff"/>
<rect x="288.78" y="285.45" width="9.68" height="4.1" fill="#00e5ff"/>
<rect x="298.11" y="285.45" width="9.68" height="4.1" fill="#00b2ff"/>
<rect x="307.44" y="285.45" width="9.68" height="4.1" fill="#1affe5"/>
<rect x="316.77" y="285.45" width="9.68" height="4.1" fill="#00b2ff"/>
<rect x="326.09" y="285.45" width="9.68" height="4.1" fill="#00e5ff"/>
<rect x="335.42" y="285.45" width="9.68" height="4.1" fill="#4dffb2"/>
<rect x="354.08" y="285.45" width="9.68" height="4.1" fill="#e5ff1a"/>
<rect x="363.41" y="285.45" width="9.68" height="4.1" fill="#00e5ff"/>
<rect x="372.73" y="285.45" width="9.68" height="4.1" fill="#80ff80"/>
<rect x="382.06" y="285.45" width="19.01" height="4.1" fill="#004dff"/>
<rect x="400.72" y="285.45" width="19.01" height="4.1" fill="#00e5ff"/>
<rect x="419.37" y="285.45" width="9.68" height="4.1" fill="#00b2ff"/>
<rect x="260.8" y="289.1" width="9.68" height="4.1" fill="#4dffb2"/>
<rect x="279.46" y="289.1" width="9.68" height="4.1" fill="#0080ff"/>
<rect x="288.78" y="289.1" width="9.68" height="4.1" fill="#4dffb2"/>
<rect x="344.75" y="289.1" width="9.68" height="4.1" fill="#00e5ff"/>
<rect x="354.08" y="289.1" width="9.68" height="4.1" fill="#1affe5"/>
<rect x="372.73" y="289.1" width="9.68" height="4.1" fill="#00e5ff"/>
<rect x="382.06" y="289.1" width="19.01" height="4.1" fill="#4dffb2"/>
<rect x="410.04" y="289.1" width="9.68" height="4.1" fill="#4dffb2"/>
<rect x="419.37" y="289.1" width="9.68" height="4.1" fill="#00e5ff"/>
<g transform="translate(344.75 252.6) scale(0.46639 0.73000)"><use href="#coast" fill="none" stroke="#000" stroke-width="1.1" stroke-linejoin="round" vector-effect="non-scaling-stroke" style="vector-effect:non-scaling-stroke"/></g>
<circle cx="264.76" cy="262.67" r="0.45" fill="#000"/>
<circle cx="275.02" cy="265.45" r="0.45" fill="#000"/>
<circle cx="302.54" cy="252.97" r="0.45" fill="#000"/>
<circle cx="427.77" cy="265.59" r="0.45" fill="#000"/>
<circle cx="422.87" cy="263.91" r="0.45" fill="#000"/>
<circle cx="419.37" cy="259.53" r="0.45" fill="#000"/>
<circle cx="421.94" cy="268.15" r="0.45" fill="#000"/>
<circle cx="371.57" cy="267.35" r="0.45" fill="#000"/>
<circle cx="316.77" cy="290.34" r="0.45" fill="#000"/>
<circle cx="327.73" cy="292.24" r="0.45" fill="#000"/>
<circle cx="377.4" cy="288.59" r="0.45" fill="#000"/>
</g>
<path d="M265.46 194.2v1.6M265.46 311v-1.6M270.13 194.2v1.6M270.13 311v-1.6M274.79 194.2v1.6M274.79 311v-1.6M279.46 194.2v1.6M279.46 311v-1.6M284.12 194.2v1.6M284.12 311v-1.6M288.78 194.2v1.6M288.78 311v-1.6M293.45 194.2v1.6M293.45 311v-1.6M298.11 194.2v1.6M298.11 311v-1.6M302.77 194.2v1.6M302.77 311v-1.6M307.44 194.2v1.6M307.44 311v-1.6M312.1 194.2v1.6M312.1 311v-1.6M316.77 194.2v1.6M316.77 311v-1.6M321.43 194.2v1.6M321.43 311v-1.6M326.09 194.2v1.6M326.09 311v-1.6M330.76 194.2v1.6M330.76 311v-1.6M335.42 194.2v1.6M335.42 311v-1.6M340.09 194.2v1.6M340.09 311v-1.6M344.75 194.2v1.6M344.75 311v-1.6M349.41 194.2v1.6M349.41 311v-1.6M354.08 194.2v1.6M354.08 311v-1.6M358.74 194.2v1.6M358.74 311v-1.6M363.41 194.2v1.6M363.41 311v-1.6M368.07 194.2v1.6M368.07 311v-1.6M372.73 194.2v1.6M372.73 311v-1.6M377.4 194.2v1.6M377.4 311v-1.6M382.06 194.2v1.6M382.06 311v-1.6M386.73 194.2v1.6M386.73 311v-1.6M391.39 194.2v1.6M391.39 311v-1.6M396.05 194.2v1.6M396.05 311v-1.6M400.72 194.2v1.6M400.72 311v-1.6M405.38 194.2v1.6M405.38 311v-1.6M410.04 194.2v1.6M410.04 311v-1.6M414.71 194.2v1.6M414.71 311v-1.6M419.37 194.2v1.6M419.37 311v-1.6M424.04 194.2v1.6M424.04 311v-1.6M260.8 303.7h1.6M428.7 303.7h-1.6M260.8 296.4h1.6M428.7 296.4h-1.6M260.8 289.1h1.6M428.7 289.1h-1.6M260.8 281.8h1.6M428.7 281.8h-1.6M260.8 274.5h1.6M428.7 274.5h-1.6M260.8 267.2h1.6M428.7 267.2h-1.6M260.8 259.9h1.6M428.7 259.9h-1.6M260.8 252.6h1.6M428.7 252.6h-1.6M260.8 245.3h1.6M428.7 245.3h-1.6M260.8 238h1.6M428.7 238h-1.6M260.8 230.7h1.6M428.7 230.7h-1.6M260.8 223.4h1.6M428.7 223.4h-1.6M260.8 216.1h1.6M428.7 216.1h-1.6M260.8 208.8h1.6M428.7 208.8h-1.6M260.8 201.5h1.6M428.7 201.5h-1.6" stroke="#9a9a9a" stroke-width="0.6" fill="none"/>
<rect x="260.8" y="194.2" width="167.9" height="116.8" fill="none" stroke="#a0a0a0" stroke-width="1"/>
<text x="72.78" y="151" font-size="6.8" text-anchor="middle" textLength="17.6" lengthAdjust="spacingAndGlyphs" style="stroke:#1a1a1a;stroke-width:0.25">−100</text>
<text x="122" y="151" font-size="6.8" text-anchor="middle" textLength="4.4" lengthAdjust="spacingAndGlyphs" style="stroke:#1a1a1a;stroke-width:0.25">0</text>
<text x="171.22" y="151" font-size="6.8" text-anchor="middle" textLength="13.4" lengthAdjust="spacingAndGlyphs" style="stroke:#1a1a1a;stroke-width:0.25">100</text>
<text x="100.4" y="158.9" font-size="6.6" text-anchor="start" textLength="31.8" lengthAdjust="spacingAndGlyphs" style="stroke:#1a1a1a;stroke-width:0.22">Longitude</text>
<text x="136" y="158.9" font-size="6.6" text-anchor="start" textLength="7.4" lengthAdjust="spacingAndGlyphs" style="stroke:#1a1a1a;stroke-width:0.22">(°)</text>
<text x="31.2" y="43.08" font-size="6.8" text-anchor="end" textLength="8.8" lengthAdjust="spacingAndGlyphs" style="stroke:#1a1a1a;stroke-width:0.25">50</text>
<text x="31.2" y="81.8" font-size="6.8" text-anchor="end" textLength="4.4" lengthAdjust="spacingAndGlyphs" style="stroke:#1a1a1a;stroke-width:0.25">0</text>
<text x="31.2" y="120.52" font-size="6.8" text-anchor="end" textLength="13.2" lengthAdjust="spacingAndGlyphs" style="stroke:#1a1a1a;stroke-width:0.25">−50</text>
<text transform="translate(12.4 79.35) rotate(-90)" x="-18.45" y="0" font-size="6.8" textLength="25.9" lengthAdjust="spacingAndGlyphs" style="fill:#111;stroke:#111;stroke-width:0.25">Latitude</text>
<text transform="translate(12.4 79.35) rotate(-90)" x="9.95" y="-0.3" font-size="5.8" textLength="7.9" lengthAdjust="spacingAndGlyphs" style="fill:#111;stroke:#111;stroke-width:0.25">(°)</text>
<text x="298.5" y="151" font-size="6.8" text-anchor="middle" textLength="17.6" lengthAdjust="spacingAndGlyphs" style="stroke:#1a1a1a;stroke-width:0.25">−100</text>
<text x="345" y="151" font-size="6.8" text-anchor="middle" textLength="4.4" lengthAdjust="spacingAndGlyphs" style="stroke:#1a1a1a;stroke-width:0.25">0</text>
<text x="391.5" y="151" font-size="6.8" text-anchor="middle" textLength="13.4" lengthAdjust="spacingAndGlyphs" style="stroke:#1a1a1a;stroke-width:0.25">100</text>
<text x="323.4" y="158.9" font-size="6.6" text-anchor="start" textLength="31.8" lengthAdjust="spacingAndGlyphs" style="stroke:#1a1a1a;stroke-width:0.22">Longitude</text>
<text x="359" y="158.9" font-size="6.6" text-anchor="start" textLength="7.4" lengthAdjust="spacingAndGlyphs" style="stroke:#1a1a1a;stroke-width:0.22">(°)</text>
<text x="259.1" y="43.04" font-size="6.8" text-anchor="end" textLength="8.8" lengthAdjust="spacingAndGlyphs" style="stroke:#1a1a1a;stroke-width:0.25">50</text>
<text x="259.1" y="81.85" font-size="6.8" text-anchor="end" textLength="4.4" lengthAdjust="spacingAndGlyphs" style="stroke:#1a1a1a;stroke-width:0.25">0</text>
<text x="259.1" y="120.66" font-size="6.8" text-anchor="end" textLength="13.2" lengthAdjust="spacingAndGlyphs" style="stroke:#1a1a1a;stroke-width:0.25">−50</text>
<text transform="translate(240.3 79.4) rotate(-90)" x="-18.45" y="0" font-size="6.8" textLength="25.9" lengthAdjust="spacingAndGlyphs" style="fill:#111;stroke:#111;stroke-width:0.25">Latitude</text>
<text transform="translate(240.3 79.4) rotate(-90)" x="9.95" y="-0.3" font-size="5.8" textLength="7.9" lengthAdjust="spacingAndGlyphs" style="fill:#111;stroke:#111;stroke-width:0.25">(°)</text>
<text x="72.89" y="320.6" font-size="6.8" text-anchor="middle" textLength="17.6" lengthAdjust="spacingAndGlyphs" style="stroke:#1a1a1a;stroke-width:0.25">−100</text>
<text x="122" y="320.6" font-size="6.8" text-anchor="middle" textLength="4.4" lengthAdjust="spacingAndGlyphs" style="stroke:#1a1a1a;stroke-width:0.25">0</text>
<text x="171.11" y="320.6" font-size="6.8" text-anchor="middle" textLength="13.4" lengthAdjust="spacingAndGlyphs" style="stroke:#1a1a1a;stroke-width:0.25">100</text>
<text x="100.4" y="328" font-size="6.6" text-anchor="start" textLength="31.8" lengthAdjust="spacingAndGlyphs" style="stroke:#1a1a1a;stroke-width:0.22">Longitude</text>
<text x="136" y="328" font-size="6.6" text-anchor="start" textLength="7.4" lengthAdjust="spacingAndGlyphs" style="stroke:#1a1a1a;stroke-width:0.22">(°)</text>
<text x="31.4" y="219.01" font-size="6.8" text-anchor="end" textLength="8.8" lengthAdjust="spacingAndGlyphs" style="stroke:#1a1a1a;stroke-width:0.25">50</text>
<text x="31.4" y="255.6" font-size="6.8" text-anchor="end" textLength="4.4" lengthAdjust="spacingAndGlyphs" style="stroke:#1a1a1a;stroke-width:0.25">0</text>
<text x="31.4" y="292.19" font-size="6.8" text-anchor="end" textLength="13.2" lengthAdjust="spacingAndGlyphs" style="stroke:#1a1a1a;stroke-width:0.25">−50</text>
<text transform="translate(12.6 252.75) rotate(-90)" x="-17.15" y="0" font-size="6.8" textLength="24.7" lengthAdjust="spacingAndGlyphs" style="fill:#111;stroke:#111;stroke-width:0.25">Latitude</text>
<text transform="translate(12.6 252.75) rotate(-90)" x="9.75" y="-0.3" font-size="5.8" textLength="7.2" lengthAdjust="spacingAndGlyphs" style="fill:#111;stroke:#111;stroke-width:0.25">(°)</text>
<text x="298.11" y="320.6" font-size="6.8" text-anchor="middle" textLength="17.6" lengthAdjust="spacingAndGlyphs" style="stroke:#1a1a1a;stroke-width:0.25">−100</text>
<text x="344.75" y="320.6" font-size="6.8" text-anchor="middle" textLength="4.4" lengthAdjust="spacingAndGlyphs" style="stroke:#1a1a1a;stroke-width:0.25">0</text>
<text x="391.39" y="320.6" font-size="6.8" text-anchor="middle" textLength="13.4" lengthAdjust="spacingAndGlyphs" style="stroke:#1a1a1a;stroke-width:0.25">100</text>
<text x="323.15" y="328" font-size="6.6" text-anchor="start" textLength="31.8" lengthAdjust="spacingAndGlyphs" style="stroke:#1a1a1a;stroke-width:0.22">Longitude</text>
<text x="358.75" y="328" font-size="6.6" text-anchor="start" textLength="7.4" lengthAdjust="spacingAndGlyphs" style="stroke:#1a1a1a;stroke-width:0.22">(°)</text>
<text x="258.6" y="218.95" font-size="6.8" text-anchor="end" textLength="8.8" lengthAdjust="spacingAndGlyphs" style="stroke:#1a1a1a;stroke-width:0.25">50</text>
<text x="258.6" y="255.45" font-size="6.8" text-anchor="end" textLength="4.4" lengthAdjust="spacingAndGlyphs" style="stroke:#1a1a1a;stroke-width:0.25">0</text>
<text x="258.6" y="291.95" font-size="6.8" text-anchor="end" textLength="13.2" lengthAdjust="spacingAndGlyphs" style="stroke:#1a1a1a;stroke-width:0.25">−50</text>
<text transform="translate(239.8 252.6) rotate(-90)" x="-17.15" y="0" font-size="6.8" textLength="24.7" lengthAdjust="spacingAndGlyphs" style="fill:#111;stroke:#111;stroke-width:0.25">Latitude</text>
<text transform="translate(239.8 252.6) rotate(-90)" x="9.75" y="-0.3" font-size="5.8" textLength="7.2" lengthAdjust="spacingAndGlyphs" style="fill:#111;stroke:#111;stroke-width:0.25">(°)</text>
<text x="24.5" y="13" font-size="11" text-anchor="start">a)</text>
<text x="122" y="12.6" font-size="10" text-anchor="middle">June</text>
<text x="254.6" y="13" font-size="11" text-anchor="start">b)</text>
<text x="346" y="12.6" font-size="10" text-anchor="middle">July</text>
<text x="25.2" y="189.8" font-size="11" text-anchor="start">c)</text>
<text x="122" y="189.6" font-size="11" text-anchor="middle">August</text>
<text x="254.6" y="189.8" font-size="11" text-anchor="start">d)</text>
<text x="346" y="189.8" font-size="11" text-anchor="middle">November</text>
<rect x="452.2" y="22" width="10.3" height="13.32" fill="#800000"/>
<rect x="452.2" y="35.27" width="10.3" height="13.32" fill="#b30000"/>
<rect x="452.2" y="48.53" width="10.3" height="13.32" fill="#e50000"/>
<rect x="452.2" y="61.8" width="10.3" height="13.32" fill="#ff1a00"/>
<rect x="452.2" y="75.07" width="10.3" height="13.32" fill="#ff4c00"/>
<rect x="452.2" y="88.33" width="10.3" height="13.32" fill="#ff8000"/>
<rect x="452.2" y="101.6" width="10.3" height="13.32" fill="#ffb300"/>
<rect x="452.2" y="114.87" width="10.3" height="13.32" fill="#ffe500"/>
<rect x="452.2" y="128.13" width="10.3" height="13.32" fill="#e5ff1a"/>
<rect x="452.2" y="141.4" width="10.3" height="13.32" fill="#b3ff4c"/>
<rect x="452.2" y="154.67" width="10.3" height="13.32" fill="#80ff80"/>
<rect x="452.2" y="167.93" width="10.3" height="13.32" fill="#4dffb2"/>
<rect x="452.2" y="181.2" width="10.3" height="13.32" fill="#1affe5"/>
<rect x="452.2" y="194.47" width="10.3" height="13.32" fill="#00e5ff"/>
<rect x="452.2" y="207.73" width="10.3" height="13.32" fill="#00b2ff"/>
<rect x="452.2" y="221" width="10.3" height="13.32" fill="#0080ff"/>
<rect x="452.2" y="234.27" width="10.3" height="13.32" fill="#004dff"/>
<rect x="452.2" y="247.53" width="10.3" height="13.32" fill="#001aff"/>
<rect x="452.2" y="260.8" width="10.3" height="13.32" fill="#0000e6"/>
<rect x="452.2" y="274.07" width="10.3" height="13.32" fill="#0000b2"/>
<rect x="452.2" y="287.33" width="10.3" height="13.32" fill="#000080"/>
<path d="M452.2 35.27H462.5M452.2 48.53H462.5M452.2 61.8H462.5M452.2 75.07H462.5M452.2 88.33H462.5M452.2 101.6H462.5M452.2 114.87H462.5M452.2 128.13H462.5M452.2 141.4H462.5M452.2 154.67H462.5M452.2 167.93H462.5M452.2 181.2H462.5M452.2 194.47H462.5M452.2 207.73H462.5M452.2 221H462.5M452.2 234.27H462.5M452.2 247.53H462.5M452.2 260.8H462.5M452.2 274.07H462.5M452.2 287.33H462.5" stroke="#000" stroke-opacity="0.5" stroke-width="0.6"/>
<rect x="452.2" y="22" width="10.3" height="278.6" fill="none" stroke="#000" stroke-opacity="0.35" stroke-width="0.6"/>
<text x="466" y="35.85" font-size="8.6" text-anchor="start" textLength="25.4" lengthAdjust="spacingAndGlyphs" style="stroke:#1a1a1a;stroke-width:0.2">1.050</text>
<text x="466" y="49.12" font-size="8.6" text-anchor="start" textLength="25.4" lengthAdjust="spacingAndGlyphs" style="stroke:#1a1a1a;stroke-width:0.2">1.048</text>
<text x="466" y="62.39" font-size="8.6" text-anchor="start" textLength="25.4" lengthAdjust="spacingAndGlyphs" style="stroke:#1a1a1a;stroke-width:0.2">1.045</text>
<text x="466" y="75.66" font-size="8.6" text-anchor="start" textLength="25.4" lengthAdjust="spacingAndGlyphs" style="stroke:#1a1a1a;stroke-width:0.2">1.043</text>
<text x="466" y="88.93" font-size="8.6" text-anchor="start" textLength="25.4" lengthAdjust="spacingAndGlyphs" style="stroke:#1a1a1a;stroke-width:0.2">1.040</text>
<text x="466" y="102.2" font-size="8.6" text-anchor="start" textLength="25.4" lengthAdjust="spacingAndGlyphs" style="stroke:#1a1a1a;stroke-width:0.2">1.038</text>
<text x="466" y="115.47" font-size="8.6" text-anchor="start" textLength="25.4" lengthAdjust="spacingAndGlyphs" style="stroke:#1a1a1a;stroke-width:0.2">1.035</text>
<text x="466" y="128.74" font-size="8.6" text-anchor="start" textLength="25.4" lengthAdjust="spacingAndGlyphs" style="stroke:#1a1a1a;stroke-width:0.2">1.033</text>
<text x="466" y="142.01" font-size="8.6" text-anchor="start" textLength="25.4" lengthAdjust="spacingAndGlyphs" style="stroke:#1a1a1a;stroke-width:0.2">1.030</text>
<text x="466" y="155.28" font-size="8.6" text-anchor="start" textLength="25.4" lengthAdjust="spacingAndGlyphs" style="stroke:#1a1a1a;stroke-width:0.2">1.028</text>
<text x="466" y="168.55" font-size="8.6" text-anchor="start" textLength="25.4" lengthAdjust="spacingAndGlyphs" style="stroke:#1a1a1a;stroke-width:0.2">1.025</text>
<text x="466" y="181.82" font-size="8.6" text-anchor="start" textLength="25.4" lengthAdjust="spacingAndGlyphs" style="stroke:#1a1a1a;stroke-width:0.2">1.023</text>
<text x="466" y="195.09" font-size="8.6" text-anchor="start" textLength="25.4" lengthAdjust="spacingAndGlyphs" style="stroke:#1a1a1a;stroke-width:0.2">1.020</text>
<text x="466" y="208.36" font-size="8.6" text-anchor="start" textLength="25.4" lengthAdjust="spacingAndGlyphs" style="stroke:#1a1a1a;stroke-width:0.2">1.018</text>
<text x="466" y="221.63" font-size="8.6" text-anchor="start" textLength="25.4" lengthAdjust="spacingAndGlyphs" style="stroke:#1a1a1a;stroke-width:0.2">1.015</text>
<text x="466" y="234.9" font-size="8.6" text-anchor="start" textLength="25.4" lengthAdjust="spacingAndGlyphs" style="stroke:#1a1a1a;stroke-width:0.2">1.013</text>
<text x="466" y="248.17" font-size="8.6" text-anchor="start" textLength="25.4" lengthAdjust="spacingAndGlyphs" style="stroke:#1a1a1a;stroke-width:0.2">1.010</text>
<text x="466" y="261.44" font-size="8.6" text-anchor="start" textLength="25.4" lengthAdjust="spacingAndGlyphs" style="stroke:#1a1a1a;stroke-width:0.2">1.008</text>
<text x="466" y="274.71" font-size="8.6" text-anchor="start" textLength="25.4" lengthAdjust="spacingAndGlyphs" style="stroke:#1a1a1a;stroke-width:0.2">1.005</text>
<text x="466" y="287.98" font-size="8.6" text-anchor="start" textLength="25.4" lengthAdjust="spacingAndGlyphs" style="stroke:#1a1a1a;stroke-width:0.2">1.003</text>
<text x="466" y="301.25" font-size="8.6" text-anchor="start" textLength="25.4" lengthAdjust="spacingAndGlyphs" style="stroke:#1a1a1a;stroke-width:0.2">1.000</text>
</svg></body></html>
